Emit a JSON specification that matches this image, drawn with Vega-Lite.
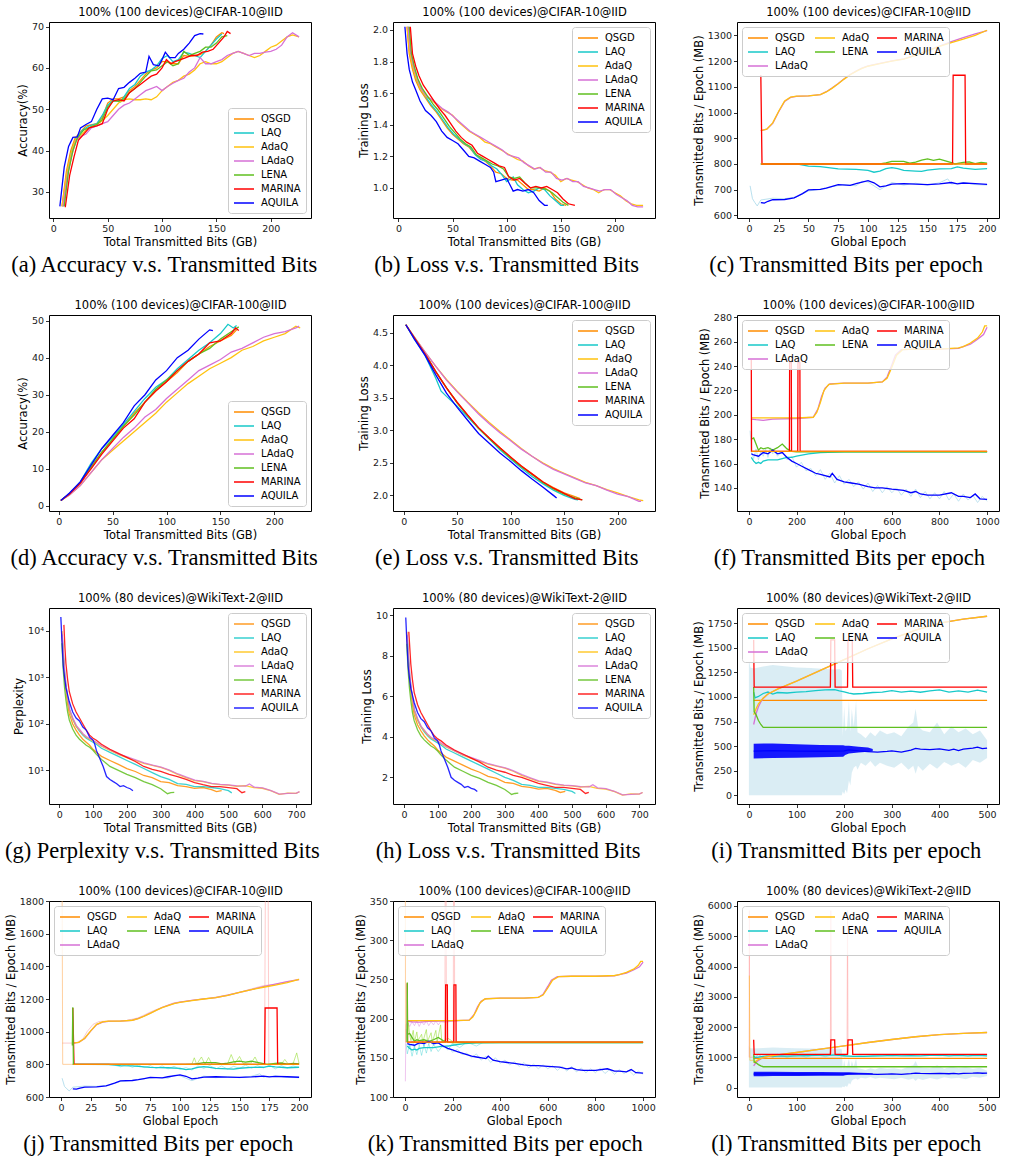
{
"$schema":"https://vega.github.io/schema/vega-lite/v6.json",
"background":"white",
"padding":{"left":4,"top":5,"right":2,"bottom":2},
"columns":3,
"spacing":{"row":97,"column":82},
"bounds":"flush",
"resolve":{"scale":{"x":"independent","y":"independent","color":"independent"},"legend":{"color":"independent"},"axis":{"x":"independent","y":"independent"}},
"config":{
 "font":"DejaVu Sans",
 "view":{"stroke":"#000000","strokeWidth":1},
 "axis":{"domain":false,"grid":false,"tickColor":"#000000","tickSize":3.5,"tickWidth":0.8,"labelFont":"DejaVu Sans","labelFontSize":9.5,"labelColor":"#1a1a1a","labelPadding":2,"labelFlush":false,"labelOverlap":false,"titleFont":"DejaVu Sans","titleFontSize":11.5,"titleFontWeight":"normal","titleColor":"#000000","titlePadding":3},
 "legend":{"symbolType":"M-1,0H3","symbolSize":100,"symbolStrokeWidth":1.5,"labelFont":"DejaVu Sans","labelFontSize":10,"labelColor":"#000000","padding":5,"strokeColor":"#cccccc","fillColor":"rgba(255,255,255,0.8)","cornerRadius":3,"offset":5,"rowPadding":3,"columnPadding":4,"labelOffset":16},
 "title":{"orient":"bottom","font":"Liberation Serif","fontSize":22.5,"fontWeight":"normal","color":"#000000","offset":6,"anchor":"middle","frame":"bounds"}
},
"datasets":{
"a":[
{"s":"QSGD","x":8,"y":26.5},{"s":"QSGD","x":12,"y":35},{"s":"QSGD","x":16,"y":40},{"s":"QSGD","x":20,"y":43},{"s":"QSGD","x":25,"y":44.5},{"s":"QSGD","x":30,"y":46},{"s":"QSGD","x":40,"y":46.5},{"s":"QSGD","x":45,"y":48},{"s":"QSGD","x":50,"y":51.5},{"s":"QSGD","x":55,"y":52.5},{"s":"QSGD","x":60,"y":52.5},{"s":"QSGD","x":65,"y":53},{"s":"QSGD","x":70,"y":54.5},{"s":"QSGD","x":75,"y":55.5},{"s":"QSGD","x":80,"y":57},{"s":"QSGD","x":85,"y":58.5},{"s":"QSGD","x":90,"y":59.5},{"s":"QSGD","x":95,"y":60},{"s":"QSGD","x":100,"y":61.5},{"s":"QSGD","x":105,"y":61.5},{"s":"QSGD","x":110,"y":61},{"s":"QSGD","x":115,"y":61},{"s":"QSGD","x":120,"y":63},{"s":"QSGD","x":125,"y":62.8},{"s":"QSGD","x":130,"y":63},{"s":"QSGD","x":135,"y":63.2},{"s":"QSGD","x":140,"y":64},{"s":"QSGD","x":145,"y":65.5},{"s":"QSGD","x":150,"y":67.5},{"s":"QSGD","x":155,"y":68.5},{"s":"QSGD","x":157,"y":68.3},
{"s":"LAQ","x":9,"y":26.5},{"s":"LAQ","x":13,"y":35},{"s":"LAQ","x":17,"y":40},{"s":"LAQ","x":21,"y":43},{"s":"LAQ","x":27,"y":45},{"s":"LAQ","x":33,"y":46},{"s":"LAQ","x":40,"y":46.5},{"s":"LAQ","x":45,"y":48.5},{"s":"LAQ","x":50,"y":51},{"s":"LAQ","x":55,"y":52.2},{"s":"LAQ","x":62,"y":51.8},{"s":"LAQ","x":65,"y":53},{"s":"LAQ","x":70,"y":55},{"s":"LAQ","x":75,"y":56},{"s":"LAQ","x":80,"y":58},{"s":"LAQ","x":85,"y":59},{"s":"LAQ","x":90,"y":59.5},{"s":"LAQ","x":95,"y":60.5},{"s":"LAQ","x":100,"y":62.3},{"s":"LAQ","x":105,"y":63},{"s":"LAQ","x":110,"y":61.5},{"s":"LAQ","x":115,"y":62},{"s":"LAQ","x":120,"y":63.8},{"s":"LAQ","x":125,"y":63.5},{"s":"LAQ","x":130,"y":63},{"s":"LAQ","x":135,"y":62.5},{"s":"LAQ","x":140,"y":64},{"s":"LAQ","x":145,"y":65.5},{"s":"LAQ","x":150,"y":67},{"s":"LAQ","x":155,"y":68.2},
{"s":"AdaQ","x":8,"y":26.5},{"s":"AdaQ","x":12,"y":34},{"s":"AdaQ","x":16,"y":39},{"s":"AdaQ","x":20,"y":42.5},{"s":"AdaQ","x":25,"y":43.5},{"s":"AdaQ","x":30,"y":45},{"s":"AdaQ","x":35,"y":45.8},{"s":"AdaQ","x":40,"y":46.3},{"s":"AdaQ","x":45,"y":47.2},{"s":"AdaQ","x":50,"y":48.5},{"s":"AdaQ","x":55,"y":50},{"s":"AdaQ","x":60,"y":51.5},{"s":"AdaQ","x":65,"y":52.3},{"s":"AdaQ","x":70,"y":52.5},{"s":"AdaQ","x":75,"y":52.3},{"s":"AdaQ","x":80,"y":52.3},{"s":"AdaQ","x":85,"y":52.5},{"s":"AdaQ","x":90,"y":52.3},{"s":"AdaQ","x":95,"y":53},{"s":"AdaQ","x":100,"y":54.5},{"s":"AdaQ","x":105,"y":55.5},{"s":"AdaQ","x":110,"y":56.5},{"s":"AdaQ","x":115,"y":57},{"s":"AdaQ","x":120,"y":58},{"s":"AdaQ","x":125,"y":58.5},{"s":"AdaQ","x":130,"y":59.5},{"s":"AdaQ","x":135,"y":61},{"s":"AdaQ","x":140,"y":61.5},{"s":"AdaQ","x":145,"y":61},{"s":"AdaQ","x":150,"y":61},{"s":"AdaQ","x":155,"y":61.5},{"s":"AdaQ","x":160,"y":62.5},{"s":"AdaQ","x":165,"y":63.5},{"s":"AdaQ","x":170,"y":64},{"s":"AdaQ","x":175,"y":63.5},{"s":"AdaQ","x":180,"y":63},{"s":"AdaQ","x":185,"y":62.5},{"s":"AdaQ","x":190,"y":63},{"s":"AdaQ","x":195,"y":64},{"s":"AdaQ","x":200,"y":65},{"s":"AdaQ","x":205,"y":65.5},{"s":"AdaQ","x":210,"y":66.5},{"s":"AdaQ","x":215,"y":67.5},{"s":"AdaQ","x":220,"y":68},{"s":"AdaQ","x":226,"y":67.5},
{"s":"LAdaQ","x":9,"y":26.5},{"s":"LAdaQ","x":13,"y":34},{"s":"LAdaQ","x":17,"y":39},{"s":"LAdaQ","x":21,"y":42.5},{"s":"LAdaQ","x":26,"y":43.5},{"s":"LAdaQ","x":30,"y":44},{"s":"LAdaQ","x":35,"y":45.5},{"s":"LAdaQ","x":40,"y":46},{"s":"LAdaQ","x":45,"y":46.5},{"s":"LAdaQ","x":50,"y":47},{"s":"LAdaQ","x":55,"y":48.5},{"s":"LAdaQ","x":60,"y":50},{"s":"LAdaQ","x":65,"y":51},{"s":"LAdaQ","x":70,"y":51.5},{"s":"LAdaQ","x":75,"y":52.5},{"s":"LAdaQ","x":80,"y":53.5},{"s":"LAdaQ","x":85,"y":54.5},{"s":"LAdaQ","x":90,"y":55},{"s":"LAdaQ","x":95,"y":55.5},{"s":"LAdaQ","x":100,"y":54.5},{"s":"LAdaQ","x":105,"y":55.5},{"s":"LAdaQ","x":110,"y":56.3},{"s":"LAdaQ","x":115,"y":57},{"s":"LAdaQ","x":120,"y":57.5},{"s":"LAdaQ","x":125,"y":59},{"s":"LAdaQ","x":130,"y":60},{"s":"LAdaQ","x":135,"y":62.5},{"s":"LAdaQ","x":140,"y":61},{"s":"LAdaQ","x":145,"y":61},{"s":"LAdaQ","x":150,"y":61.5},{"s":"LAdaQ","x":155,"y":62},{"s":"LAdaQ","x":160,"y":63},{"s":"LAdaQ","x":165,"y":63.5},{"s":"LAdaQ","x":170,"y":64},{"s":"LAdaQ","x":175,"y":63.5},{"s":"LAdaQ","x":180,"y":63},{"s":"LAdaQ","x":185,"y":63.5},{"s":"LAdaQ","x":190,"y":63.5},{"s":"LAdaQ","x":195,"y":63.8},{"s":"LAdaQ","x":200,"y":64},{"s":"LAdaQ","x":205,"y":64.5},{"s":"LAdaQ","x":210,"y":65.5},{"s":"LAdaQ","x":215,"y":67.5},{"s":"LAdaQ","x":220,"y":68.5},{"s":"LAdaQ","x":226,"y":67.5},
{"s":"LENA","x":10,"y":26.5},{"s":"LENA","x":14,"y":35},{"s":"LENA","x":18,"y":40},{"s":"LENA","x":22,"y":43},{"s":"LENA","x":28,"y":45},{"s":"LENA","x":35,"y":45.8},{"s":"LENA","x":40,"y":46.3},{"s":"LENA","x":45,"y":47.5},{"s":"LENA","x":50,"y":50.5},{"s":"LENA","x":55,"y":52},{"s":"LENA","x":60,"y":52},{"s":"LENA","x":65,"y":52.5},{"s":"LENA","x":70,"y":54},{"s":"LENA","x":75,"y":55},{"s":"LENA","x":80,"y":56.5},{"s":"LENA","x":85,"y":58},{"s":"LENA","x":90,"y":59.3},{"s":"LENA","x":95,"y":59.5},{"s":"LENA","x":100,"y":60.5},{"s":"LENA","x":105,"y":61.5},{"s":"LENA","x":110,"y":60.5},{"s":"LENA","x":115,"y":61},{"s":"LENA","x":120,"y":64},{"s":"LENA","x":125,"y":63},{"s":"LENA","x":130,"y":63.5},{"s":"LENA","x":135,"y":64},{"s":"LENA","x":140,"y":65},{"s":"LENA","x":145,"y":65},{"s":"LENA","x":150,"y":66},{"s":"LENA","x":155,"y":67.5},{"s":"LENA","x":160,"y":67.8},
{"s":"MARINA","x":11,"y":26.3},{"s":"MARINA","x":15,"y":34},{"s":"MARINA","x":19,"y":38.5},{"s":"MARINA","x":23,"y":42.5},{"s":"MARINA","x":28,"y":44},{"s":"MARINA","x":33,"y":45.5},{"s":"MARINA","x":40,"y":46},{"s":"MARINA","x":45,"y":46.5},{"s":"MARINA","x":50,"y":50},{"s":"MARINA","x":55,"y":52},{"s":"MARINA","x":60,"y":52.3},{"s":"MARINA","x":65,"y":52},{"s":"MARINA","x":70,"y":54},{"s":"MARINA","x":75,"y":55},{"s":"MARINA","x":80,"y":56},{"s":"MARINA","x":85,"y":57},{"s":"MARINA","x":90,"y":58},{"s":"MARINA","x":95,"y":58.5},{"s":"MARINA","x":100,"y":60},{"s":"MARINA","x":104,"y":62},{"s":"MARINA","x":108,"y":61},{"s":"MARINA","x":112,"y":61.5},{"s":"MARINA","x":117,"y":62},{"s":"MARINA","x":122,"y":62.5},{"s":"MARINA","x":127,"y":63},{"s":"MARINA","x":132,"y":63},{"s":"MARINA","x":137,"y":63.8},{"s":"MARINA","x":142,"y":64},{"s":"MARINA","x":147,"y":64.5},{"s":"MARINA","x":152,"y":66},{"s":"MARINA","x":157,"y":67.5},{"s":"MARINA","x":160,"y":68.8},{"s":"MARINA","x":163,"y":68.3},
{"s":"AQUILA","x":6,"y":26.5},{"s":"AQUILA","x":10,"y":36},{"s":"AQUILA","x":14,"y":41},{"s":"AQUILA","x":18,"y":43.2},{"s":"AQUILA","x":22,"y":43.3},{"s":"AQUILA","x":25,"y":45.5},{"s":"AQUILA","x":30,"y":46.3},{"s":"AQUILA","x":35,"y":47},{"s":"AQUILA","x":40,"y":50},{"s":"AQUILA","x":45,"y":52.5},{"s":"AQUILA","x":50,"y":52.7},{"s":"AQUILA","x":55,"y":52.3},{"s":"AQUILA","x":60,"y":55},{"s":"AQUILA","x":65,"y":55.3},{"s":"AQUILA","x":70,"y":56.5},{"s":"AQUILA","x":75,"y":57.5},{"s":"AQUILA","x":80,"y":58.7},{"s":"AQUILA","x":85,"y":59},{"s":"AQUILA","x":88,"y":62.8},{"s":"AQUILA","x":92,"y":60.8},{"s":"AQUILA","x":97,"y":60.5},{"s":"AQUILA","x":100,"y":62},{"s":"AQUILA","x":103,"y":63.8},{"s":"AQUILA","x":107,"y":62.5},{"s":"AQUILA","x":112,"y":62.5},{"s":"AQUILA","x":115,"y":63.5},{"s":"AQUILA","x":120,"y":64.5},{"s":"AQUILA","x":125,"y":66},{"s":"AQUILA","x":130,"y":67.8},{"s":"AQUILA","x":135,"y":68.3},{"s":"AQUILA","x":138,"y":68.2}
],
"b":[
{"s":"QSGD","x":8,"y":2.02},{"s":"QSGD","x":10,"y":1.85},{"s":"QSGD","x":13,"y":1.75},{"s":"QSGD","x":16,"y":1.68},{"s":"QSGD","x":20,"y":1.62},{"s":"QSGD","x":25,"y":1.57},{"s":"QSGD","x":30,"y":1.52},{"s":"QSGD","x":35,"y":1.48},{"s":"QSGD","x":40,"y":1.43},{"s":"QSGD","x":45,"y":1.38},{"s":"QSGD","x":50,"y":1.34},{"s":"QSGD","x":55,"y":1.31},{"s":"QSGD","x":60,"y":1.28},{"s":"QSGD","x":65,"y":1.26},{"s":"QSGD","x":70,"y":1.22},{"s":"QSGD","x":75,"y":1.19},{"s":"QSGD","x":80,"y":1.17},{"s":"QSGD","x":85,"y":1.14},{"s":"QSGD","x":90,"y":1.1},{"s":"QSGD","x":95,"y":1.09},{"s":"QSGD","x":100,"y":1.06},{"s":"QSGD","x":105,"y":1.05},{"s":"QSGD","x":110,"y":1.05},{"s":"QSGD","x":115,"y":1.02},{"s":"QSGD","x":120,"y":0.99},{"s":"QSGD","x":125,"y":0.99},{"s":"QSGD","x":130,"y":0.98},{"s":"QSGD","x":135,"y":1.0},{"s":"QSGD","x":140,"y":0.98},{"s":"QSGD","x":145,"y":0.93},{"s":"QSGD","x":150,"y":0.9},{"s":"QSGD","x":155,"y":0.89},
{"s":"LAQ","x":9,"y":2.02},{"s":"LAQ","x":11,"y":1.85},{"s":"LAQ","x":14,"y":1.75},{"s":"LAQ","x":17,"y":1.68},{"s":"LAQ","x":21,"y":1.62},{"s":"LAQ","x":26,"y":1.57},{"s":"LAQ","x":31,"y":1.52},{"s":"LAQ","x":36,"y":1.48},{"s":"LAQ","x":41,"y":1.43},{"s":"LAQ","x":46,"y":1.38},{"s":"LAQ","x":51,"y":1.34},{"s":"LAQ","x":56,"y":1.31},{"s":"LAQ","x":61,"y":1.28},{"s":"LAQ","x":66,"y":1.26},{"s":"LAQ","x":71,"y":1.21},{"s":"LAQ","x":76,"y":1.18},{"s":"LAQ","x":81,"y":1.17},{"s":"LAQ","x":86,"y":1.14},{"s":"LAQ","x":91,"y":1.12},{"s":"LAQ","x":96,"y":1.08},{"s":"LAQ","x":100,"y":1.04},{"s":"LAQ","x":106,"y":1.07},{"s":"LAQ","x":110,"y":1.02},{"s":"LAQ","x":115,"y":0.99},{"s":"LAQ","x":120,"y":0.97},{"s":"LAQ","x":125,"y":0.98},{"s":"LAQ","x":130,"y":1.0},{"s":"LAQ","x":135,"y":0.99},{"s":"LAQ","x":140,"y":0.95},{"s":"LAQ","x":145,"y":0.92},{"s":"LAQ","x":150,"y":0.89},{"s":"LAQ","x":153,"y":0.89},
{"s":"AdaQ","x":8,"y":2.02},{"s":"AdaQ","x":10,"y":1.87},{"s":"AdaQ","x":13,"y":1.77},{"s":"AdaQ","x":16,"y":1.7},{"s":"AdaQ","x":20,"y":1.63},{"s":"AdaQ","x":25,"y":1.58},{"s":"AdaQ","x":30,"y":1.56},{"s":"AdaQ","x":35,"y":1.53},{"s":"AdaQ","x":40,"y":1.5},{"s":"AdaQ","x":45,"y":1.48},{"s":"AdaQ","x":50,"y":1.46},{"s":"AdaQ","x":55,"y":1.42},{"s":"AdaQ","x":60,"y":1.39},{"s":"AdaQ","x":65,"y":1.36},{"s":"AdaQ","x":70,"y":1.34},{"s":"AdaQ","x":75,"y":1.32},{"s":"AdaQ","x":80,"y":1.29},{"s":"AdaQ","x":85,"y":1.28},{"s":"AdaQ","x":90,"y":1.26},{"s":"AdaQ","x":95,"y":1.24},{"s":"AdaQ","x":100,"y":1.22},{"s":"AdaQ","x":105,"y":1.2},{"s":"AdaQ","x":110,"y":1.18},{"s":"AdaQ","x":115,"y":1.17},{"s":"AdaQ","x":120,"y":1.14},{"s":"AdaQ","x":125,"y":1.12},{"s":"AdaQ","x":130,"y":1.13},{"s":"AdaQ","x":135,"y":1.11},{"s":"AdaQ","x":140,"y":1.1},{"s":"AdaQ","x":145,"y":1.08},{"s":"AdaQ","x":150,"y":1.04},{"s":"AdaQ","x":155,"y":1.06},{"s":"AdaQ","x":160,"y":1.05},{"s":"AdaQ","x":165,"y":1.04},{"s":"AdaQ","x":170,"y":1.02},{"s":"AdaQ","x":175,"y":1.0},{"s":"AdaQ","x":180,"y":0.99},{"s":"AdaQ","x":185,"y":0.97},{"s":"AdaQ","x":190,"y":0.99},{"s":"AdaQ","x":195,"y":0.99},{"s":"AdaQ","x":200,"y":0.97},{"s":"AdaQ","x":205,"y":0.95},{"s":"AdaQ","x":210,"y":0.92},{"s":"AdaQ","x":215,"y":0.9},{"s":"AdaQ","x":220,"y":0.89},{"s":"AdaQ","x":226,"y":0.89},
{"s":"LAdaQ","x":9,"y":2.02},{"s":"LAdaQ","x":11,"y":1.87},{"s":"LAdaQ","x":14,"y":1.77},{"s":"LAdaQ","x":17,"y":1.7},{"s":"LAdaQ","x":21,"y":1.63},{"s":"LAdaQ","x":26,"y":1.58},{"s":"LAdaQ","x":31,"y":1.56},{"s":"LAdaQ","x":36,"y":1.53},{"s":"LAdaQ","x":41,"y":1.5},{"s":"LAdaQ","x":46,"y":1.48},{"s":"LAdaQ","x":51,"y":1.45},{"s":"LAdaQ","x":56,"y":1.42},{"s":"LAdaQ","x":61,"y":1.39},{"s":"LAdaQ","x":66,"y":1.36},{"s":"LAdaQ","x":71,"y":1.34},{"s":"LAdaQ","x":76,"y":1.32},{"s":"LAdaQ","x":81,"y":1.3},{"s":"LAdaQ","x":86,"y":1.28},{"s":"LAdaQ","x":91,"y":1.26},{"s":"LAdaQ","x":96,"y":1.24},{"s":"LAdaQ","x":101,"y":1.21},{"s":"LAdaQ","x":106,"y":1.2},{"s":"LAdaQ","x":111,"y":1.19},{"s":"LAdaQ","x":116,"y":1.16},{"s":"LAdaQ","x":121,"y":1.14},{"s":"LAdaQ","x":126,"y":1.12},{"s":"LAdaQ","x":131,"y":1.13},{"s":"LAdaQ","x":136,"y":1.1},{"s":"LAdaQ","x":141,"y":1.1},{"s":"LAdaQ","x":146,"y":1.06},{"s":"LAdaQ","x":151,"y":1.05},{"s":"LAdaQ","x":156,"y":1.06},{"s":"LAdaQ","x":161,"y":1.04},{"s":"LAdaQ","x":166,"y":1.04},{"s":"LAdaQ","x":171,"y":1.01},{"s":"LAdaQ","x":176,"y":1.0},{"s":"LAdaQ","x":181,"y":0.99},{"s":"LAdaQ","x":186,"y":0.98},{"s":"LAdaQ","x":191,"y":0.99},{"s":"LAdaQ","x":196,"y":0.99},{"s":"LAdaQ","x":201,"y":0.96},{"s":"LAdaQ","x":206,"y":0.94},{"s":"LAdaQ","x":211,"y":0.92},{"s":"LAdaQ","x":216,"y":0.89},{"s":"LAdaQ","x":221,"y":0.88},{"s":"LAdaQ","x":226,"y":0.88},
{"s":"LENA","x":10,"y":2.02},{"s":"LENA","x":12,"y":1.85},{"s":"LENA","x":15,"y":1.76},{"s":"LENA","x":18,"y":1.69},{"s":"LENA","x":22,"y":1.63},{"s":"LENA","x":27,"y":1.58},{"s":"LENA","x":32,"y":1.53},{"s":"LENA","x":37,"y":1.49},{"s":"LENA","x":42,"y":1.44},{"s":"LENA","x":47,"y":1.39},{"s":"LENA","x":52,"y":1.35},{"s":"LENA","x":57,"y":1.31},{"s":"LENA","x":62,"y":1.28},{"s":"LENA","x":67,"y":1.26},{"s":"LENA","x":72,"y":1.21},{"s":"LENA","x":77,"y":1.19},{"s":"LENA","x":82,"y":1.17},{"s":"LENA","x":87,"y":1.15},{"s":"LENA","x":92,"y":1.14},{"s":"LENA","x":97,"y":1.12},{"s":"LENA","x":102,"y":1.07},{"s":"LENA","x":107,"y":1.06},{"s":"LENA","x":112,"y":1.07},{"s":"LENA","x":117,"y":1.03},{"s":"LENA","x":122,"y":1.0},{"s":"LENA","x":127,"y":1.0},{"s":"LENA","x":132,"y":1.0},{"s":"LENA","x":137,"y":0.99},{"s":"LENA","x":142,"y":0.97},{"s":"LENA","x":147,"y":0.94},{"s":"LENA","x":152,"y":0.91},{"s":"LENA","x":157,"y":0.89},
{"s":"MARINA","x":11,"y":2.02},{"s":"MARINA","x":13,"y":1.85},{"s":"MARINA","x":16,"y":1.77},{"s":"MARINA","x":19,"y":1.71},{"s":"MARINA","x":23,"y":1.65},{"s":"MARINA","x":28,"y":1.6},{"s":"MARINA","x":33,"y":1.55},{"s":"MARINA","x":38,"y":1.5},{"s":"MARINA","x":43,"y":1.46},{"s":"MARINA","x":48,"y":1.41},{"s":"MARINA","x":53,"y":1.36},{"s":"MARINA","x":58,"y":1.32},{"s":"MARINA","x":63,"y":1.29},{"s":"MARINA","x":68,"y":1.27},{"s":"MARINA","x":73,"y":1.22},{"s":"MARINA","x":78,"y":1.2},{"s":"MARINA","x":83,"y":1.18},{"s":"MARINA","x":88,"y":1.16},{"s":"MARINA","x":93,"y":1.14},{"s":"MARINA","x":98,"y":1.13},{"s":"MARINA","x":102,"y":1.07},{"s":"MARINA","x":107,"y":1.05},{"s":"MARINA","x":112,"y":1.06},{"s":"MARINA","x":117,"y":1.03},{"s":"MARINA","x":122,"y":1.0},{"s":"MARINA","x":127,"y":1.01},{"s":"MARINA","x":132,"y":1.0},{"s":"MARINA","x":137,"y":1.01},{"s":"MARINA","x":142,"y":0.99},{"s":"MARINA","x":147,"y":0.97},{"s":"MARINA","x":152,"y":0.93},{"s":"MARINA","x":157,"y":0.9},{"s":"MARINA","x":163,"y":0.89},
{"s":"AQUILA","x":6,"y":2.02},{"s":"AQUILA","x":8,"y":1.85},{"s":"AQUILA","x":10,"y":1.75},{"s":"AQUILA","x":13,"y":1.67},{"s":"AQUILA","x":16,"y":1.62},{"s":"AQUILA","x":20,"y":1.55},{"s":"AQUILA","x":25,"y":1.49},{"s":"AQUILA","x":30,"y":1.46},{"s":"AQUILA","x":35,"y":1.42},{"s":"AQUILA","x":40,"y":1.36},{"s":"AQUILA","x":45,"y":1.32},{"s":"AQUILA","x":50,"y":1.3},{"s":"AQUILA","x":55,"y":1.28},{"s":"AQUILA","x":60,"y":1.24},{"s":"AQUILA","x":65,"y":1.2},{"s":"AQUILA","x":70,"y":1.19},{"s":"AQUILA","x":75,"y":1.17},{"s":"AQUILA","x":80,"y":1.15},{"s":"AQUILA","x":85,"y":1.13},{"s":"AQUILA","x":88,"y":1.1},{"s":"AQUILA","x":90,"y":1.04},{"s":"AQUILA","x":95,"y":1.05},{"s":"AQUILA","x":100,"y":1.06},{"s":"AQUILA","x":103,"y":1.02},{"s":"AQUILA","x":106,"y":0.98},{"s":"AQUILA","x":110,"y":0.99},{"s":"AQUILA","x":115,"y":0.98},{"s":"AQUILA","x":120,"y":0.99},{"s":"AQUILA","x":125,"y":0.97},{"s":"AQUILA","x":130,"y":0.92},{"s":"AQUILA","x":135,"y":0.89},{"s":"AQUILA","x":138,"y":0.89}
],
"c":[
{"s":"LAQ","x":10,"y":800},{"s":"LAQ","x":40,"y":800},{"s":"LAQ","x":50,"y":792},{"s":"LAQ","x":60,"y":790},{"s":"LAQ","x":75,"y":781},{"s":"LAQ","x":90,"y":779},{"s":"LAQ","x":100,"y":775},{"s":"LAQ","x":105,"y":768},{"s":"LAQ","x":110,"y":772},{"s":"LAQ","x":115,"y":782},{"s":"LAQ","x":120,"y":786},{"s":"LAQ","x":125,"y":782},{"s":"LAQ","x":130,"y":775},{"s":"LAQ","x":140,"y":772},{"s":"LAQ","x":145,"y":771},{"s":"LAQ","x":150,"y":776},{"s":"LAQ","x":160,"y":781},{"s":"LAQ","x":170,"y":782},{"s":"LAQ","x":175,"y":789},{"s":"LAQ","x":180,"y":784},{"s":"LAQ","x":190,"y":779},{"s":"LAQ","x":200,"y":782},
{"s":"LAdaQ","x":10,"y":930},{"s":"LAdaQ","x":15,"y":935},{"s":"LAdaQ","x":20,"y":958},{"s":"LAdaQ","x":25,"y":1003},{"s":"LAdaQ","x":30,"y":1043},{"s":"LAdaQ","x":35,"y":1059},{"s":"LAdaQ","x":40,"y":1063},{"s":"LAdaQ","x":50,"y":1065},{"s":"LAdaQ","x":60,"y":1070},{"s":"LAdaQ","x":65,"y":1081},{"s":"LAdaQ","x":70,"y":1096},{"s":"LAdaQ","x":75,"y":1113},{"s":"LAdaQ","x":80,"y":1131},{"s":"LAdaQ","x":85,"y":1148},{"s":"LAdaQ","x":90,"y":1161},{"s":"LAdaQ","x":95,"y":1173},{"s":"LAdaQ","x":100,"y":1181},{"s":"LAdaQ","x":110,"y":1191},{"s":"LAdaQ","x":120,"y":1201},{"s":"LAdaQ","x":130,"y":1209},{"s":"LAdaQ","x":140,"y":1223},{"s":"LAdaQ","x":150,"y":1241},{"s":"LAdaQ","x":160,"y":1258},{"s":"LAdaQ","x":170,"y":1276},{"s":"LAdaQ","x":180,"y":1291},{"s":"LAdaQ","x":190,"y":1306},{"s":"LAdaQ","x":200,"y":1318},
{"s":"AdaQ","x":10,"y":930},{"s":"AdaQ","x":15,"y":935},{"s":"AdaQ","x":20,"y":960},{"s":"AdaQ","x":25,"y":1005},{"s":"AdaQ","x":30,"y":1045},{"s":"AdaQ","x":35,"y":1060},{"s":"AdaQ","x":40,"y":1064},{"s":"AdaQ","x":50,"y":1065},{"s":"AdaQ","x":60,"y":1070},{"s":"AdaQ","x":65,"y":1080},{"s":"AdaQ","x":70,"y":1095},{"s":"AdaQ","x":75,"y":1112},{"s":"AdaQ","x":80,"y":1130},{"s":"AdaQ","x":85,"y":1147},{"s":"AdaQ","x":90,"y":1160},{"s":"AdaQ","x":95,"y":1172},{"s":"AdaQ","x":100,"y":1180},{"s":"AdaQ","x":110,"y":1190},{"s":"AdaQ","x":120,"y":1200},{"s":"AdaQ","x":130,"y":1208},{"s":"AdaQ","x":140,"y":1222},{"s":"AdaQ","x":150,"y":1240},{"s":"AdaQ","x":160,"y":1257},{"s":"AdaQ","x":170,"y":1272},{"s":"AdaQ","x":180,"y":1285},{"s":"AdaQ","x":190,"y":1300},{"s":"AdaQ","x":200,"y":1320},
{"s":"LENA","x":10,"y":800},{"s":"LENA","x":110,"y":800},{"s":"LENA","x":115,"y":804},{"s":"LENA","x":120,"y":810},{"s":"LENA","x":130,"y":810},{"s":"LENA","x":135,"y":803},{"s":"LENA","x":140,"y":807},{"s":"LENA","x":145,"y":815},{"s":"LENA","x":150,"y":820},{"s":"LENA","x":155,"y":814},{"s":"LENA","x":160,"y":819},{"s":"LENA","x":165,"y":812},{"s":"LENA","x":170,"y":805},{"s":"LENA","x":173,"y":800},{"s":"LENA","x":180,"y":806},{"s":"LENA","x":185,"y":808},{"s":"LENA","x":190,"y":801},{"s":"LENA","x":195,"y":806},{"s":"LENA","x":200,"y":803},
{"s":"MARINA","x":10,"y":1145},{"s":"MARINA","x":11,"y":800},{"s":"MARINA","x":171,"y":800},{"s":"MARINA","x":171.5,"y":1145},{"s":"MARINA","x":181.5,"y":1145},{"s":"MARINA","x":182,"y":800},{"s":"MARINA","x":200,"y":800},
{"s":"AQUILA","x":10,"y":650},{"s":"AQUILA","x":13,"y":648},{"s":"AQUILA","x":16,"y":655},{"s":"AQUILA","x":20,"y":661},{"s":"AQUILA","x":30,"y":662},{"s":"AQUILA","x":38,"y":668},{"s":"AQUILA","x":45,"y":685},{"s":"AQUILA","x":50,"y":699},{"s":"AQUILA","x":60,"y":701},{"s":"AQUILA","x":65,"y":706},{"s":"AQUILA","x":70,"y":713},{"s":"AQUILA","x":75,"y":720},{"s":"AQUILA","x":85,"y":717},{"s":"AQUILA","x":90,"y":724},{"s":"AQUILA","x":100,"y":735},{"s":"AQUILA","x":105,"y":727},{"s":"AQUILA","x":110,"y":711},{"s":"AQUILA","x":115,"y":715},{"s":"AQUILA","x":120,"y":722},{"s":"AQUILA","x":130,"y":724},{"s":"AQUILA","x":140,"y":722},{"s":"AQUILA","x":150,"y":720},{"s":"AQUILA","x":160,"y":723},{"s":"AQUILA","x":170,"y":728},{"s":"AQUILA","x":175,"y":723},{"s":"AQUILA","x":180,"y":726},{"s":"AQUILA","x":190,"y":724},{"s":"AQUILA","x":200,"y":721},
{"s":"QSGD","x":10,"y":800},{"s":"QSGD","x":200,"y":800}
],
"c_raw":[{"x":1,"y":715},{"x":3,"y":665},{"x":5,"y":650},{"x":7,"y":637},{"x":10,"y":660},{"x":20,"y":667},{"x":30,"y":665},{"x":40,"y":672},{"x":50,"y":695},{"x":60,"y":702},{"x":70,"y":712},{"x":80,"y":720},{"x":90,"y":715},{"x":95,"y":733},{"x":100,"y":730},{"x":105,"y":715},{"x":110,"y":700},{"x":120,"y":728},{"x":130,"y":718},{"x":140,"y":725},{"x":150,"y":718},{"x":160,"y":727},{"x":167,"y":742},{"x":170,"y":722},{"x":180,"y":728},{"x":190,"y":720},{"x":200,"y":718}],
"d":[
{"s":"QSGD","x":2,"y":1.5},{"s":"QSGD","x":10,"y":3.3},{"s":"QSGD","x":20,"y":6},{"s":"QSGD","x":30,"y":10.5},{"s":"QSGD","x":40,"y":14.5},{"s":"QSGD","x":50,"y":18},{"s":"QSGD","x":60,"y":21.5},{"s":"QSGD","x":70,"y":25},{"s":"QSGD","x":80,"y":28},{"s":"QSGD","x":90,"y":31},{"s":"QSGD","x":100,"y":33.5},{"s":"QSGD","x":110,"y":36},{"s":"QSGD","x":120,"y":39},{"s":"QSGD","x":130,"y":41},{"s":"QSGD","x":140,"y":43},{"s":"QSGD","x":150,"y":44.5},{"s":"QSGD","x":160,"y":46},{"s":"QSGD","x":165,"y":47.5},
{"s":"LAQ","x":2,"y":1.5},{"s":"LAQ","x":10,"y":3.3},{"s":"LAQ","x":20,"y":6.5},{"s":"LAQ","x":30,"y":11.5},{"s":"LAQ","x":40,"y":15.5},{"s":"LAQ","x":50,"y":18.5},{"s":"LAQ","x":60,"y":22},{"s":"LAQ","x":70,"y":25.5},{"s":"LAQ","x":80,"y":29},{"s":"LAQ","x":90,"y":32},{"s":"LAQ","x":100,"y":34},{"s":"LAQ","x":110,"y":37},{"s":"LAQ","x":120,"y":39.5},{"s":"LAQ","x":130,"y":42},{"s":"LAQ","x":140,"y":44},{"s":"LAQ","x":150,"y":46.5},{"s":"LAQ","x":157,"y":49},{"s":"LAQ","x":162,"y":48},{"s":"LAQ","x":165,"y":48.7},
{"s":"AdaQ","x":2,"y":1.5},{"s":"AdaQ","x":10,"y":3},{"s":"AdaQ","x":20,"y":5.5},{"s":"AdaQ","x":30,"y":9},{"s":"AdaQ","x":40,"y":12.5},{"s":"AdaQ","x":50,"y":15},{"s":"AdaQ","x":60,"y":17.5},{"s":"AdaQ","x":70,"y":20},{"s":"AdaQ","x":80,"y":22.5},{"s":"AdaQ","x":90,"y":25},{"s":"AdaQ","x":100,"y":28},{"s":"AdaQ","x":110,"y":30.5},{"s":"AdaQ","x":120,"y":33},{"s":"AdaQ","x":130,"y":35},{"s":"AdaQ","x":140,"y":37},{"s":"AdaQ","x":150,"y":38.5},{"s":"AdaQ","x":160,"y":40},{"s":"AdaQ","x":170,"y":42},{"s":"AdaQ","x":180,"y":43},{"s":"AdaQ","x":190,"y":44.5},{"s":"AdaQ","x":200,"y":45.5},{"s":"AdaQ","x":210,"y":46.5},{"s":"AdaQ","x":220,"y":48.5},{"s":"AdaQ","x":224,"y":48},
{"s":"LAdaQ","x":2,"y":1.5},{"s":"LAdaQ","x":10,"y":3},{"s":"LAdaQ","x":20,"y":5.5},{"s":"LAdaQ","x":30,"y":9},{"s":"LAdaQ","x":40,"y":12.5},{"s":"LAdaQ","x":50,"y":15.5},{"s":"LAdaQ","x":60,"y":18.5},{"s":"LAdaQ","x":70,"y":21},{"s":"LAdaQ","x":80,"y":24},{"s":"LAdaQ","x":90,"y":26},{"s":"LAdaQ","x":100,"y":29},{"s":"LAdaQ","x":110,"y":31.5},{"s":"LAdaQ","x":120,"y":34},{"s":"LAdaQ","x":130,"y":36.5},{"s":"LAdaQ","x":140,"y":38},{"s":"LAdaQ","x":150,"y":39.5},{"s":"LAdaQ","x":160,"y":41.5},{"s":"LAdaQ","x":170,"y":42.5},{"s":"LAdaQ","x":180,"y":44},{"s":"LAdaQ","x":190,"y":45.5},{"s":"LAdaQ","x":200,"y":46.5},{"s":"LAdaQ","x":210,"y":47},{"s":"LAdaQ","x":220,"y":48},{"s":"LAdaQ","x":223,"y":48.5},
{"s":"LENA","x":2,"y":1.5},{"s":"LENA","x":10,"y":3.3},{"s":"LENA","x":20,"y":6.3},{"s":"LENA","x":30,"y":10.5},{"s":"LENA","x":40,"y":14.5},{"s":"LENA","x":50,"y":18},{"s":"LENA","x":60,"y":21.5},{"s":"LENA","x":70,"y":24.5},{"s":"LENA","x":80,"y":28},{"s":"LENA","x":90,"y":31.5},{"s":"LENA","x":100,"y":34},{"s":"LENA","x":110,"y":36.5},{"s":"LENA","x":120,"y":39},{"s":"LENA","x":130,"y":41},{"s":"LENA","x":140,"y":42.5},{"s":"LENA","x":150,"y":45},{"s":"LENA","x":160,"y":47},{"s":"LENA","x":167,"y":48.3},
{"s":"MARINA","x":2,"y":1.5},{"s":"MARINA","x":10,"y":3.2},{"s":"MARINA","x":20,"y":6.2},{"s":"MARINA","x":30,"y":10},{"s":"MARINA","x":40,"y":14},{"s":"MARINA","x":50,"y":17.5},{"s":"MARINA","x":60,"y":21},{"s":"MARINA","x":70,"y":23.5},{"s":"MARINA","x":80,"y":28},{"s":"MARINA","x":90,"y":31},{"s":"MARINA","x":100,"y":33.5},{"s":"MARINA","x":110,"y":36.5},{"s":"MARINA","x":120,"y":39},{"s":"MARINA","x":130,"y":41},{"s":"MARINA","x":140,"y":44},{"s":"MARINA","x":150,"y":44.5},{"s":"MARINA","x":160,"y":46.5},{"s":"MARINA","x":164,"y":48},{"s":"MARINA","x":167,"y":47.3},
{"s":"AQUILA","x":2,"y":1.5},{"s":"AQUILA","x":10,"y":3.5},{"s":"AQUILA","x":20,"y":6.5},{"s":"AQUILA","x":30,"y":11},{"s":"AQUILA","x":40,"y":15.5},{"s":"AQUILA","x":50,"y":19},{"s":"AQUILA","x":60,"y":22.5},{"s":"AQUILA","x":70,"y":27},{"s":"AQUILA","x":80,"y":30},{"s":"AQUILA","x":90,"y":34},{"s":"AQUILA","x":100,"y":36.5},{"s":"AQUILA","x":110,"y":40},{"s":"AQUILA","x":120,"y":42},{"s":"AQUILA","x":130,"y":45},{"s":"AQUILA","x":140,"y":47.5},{"s":"AQUILA","x":143,"y":47.3}
],
"e":[
{"s":"QSGD","x":2,"y":4.62},{"s":"QSGD","x":10,"y":4.42},{"s":"QSGD","x":20,"y":4.18},{"s":"QSGD","x":30,"y":3.9},{"s":"QSGD","x":40,"y":3.65},{"s":"QSGD","x":50,"y":3.42},{"s":"QSGD","x":60,"y":3.22},{"s":"QSGD","x":70,"y":3.03},{"s":"QSGD","x":80,"y":2.88},{"s":"QSGD","x":90,"y":2.73},{"s":"QSGD","x":100,"y":2.58},{"s":"QSGD","x":110,"y":2.45},{"s":"QSGD","x":120,"y":2.33},{"s":"QSGD","x":130,"y":2.21},{"s":"QSGD","x":140,"y":2.12},{"s":"QSGD","x":150,"y":2.04},{"s":"QSGD","x":160,"y":1.98},{"s":"QSGD","x":165,"y":1.95},
{"s":"LAQ","x":2,"y":4.62},{"s":"LAQ","x":10,"y":4.4},{"s":"LAQ","x":20,"y":4.15},{"s":"LAQ","x":30,"y":3.8},{"s":"LAQ","x":35,"y":3.6},{"s":"LAQ","x":40,"y":3.52},{"s":"LAQ","x":50,"y":3.37},{"s":"LAQ","x":60,"y":3.2},{"s":"LAQ","x":70,"y":3.03},{"s":"LAQ","x":80,"y":2.87},{"s":"LAQ","x":90,"y":2.7},{"s":"LAQ","x":100,"y":2.56},{"s":"LAQ","x":110,"y":2.42},{"s":"LAQ","x":120,"y":2.29},{"s":"LAQ","x":130,"y":2.18},{"s":"LAQ","x":140,"y":2.08},{"s":"LAQ","x":150,"y":2.0},{"s":"LAQ","x":160,"y":1.94},{"s":"LAQ","x":163,"y":1.93},
{"s":"AdaQ","x":2,"y":4.62},{"s":"AdaQ","x":10,"y":4.43},{"s":"AdaQ","x":20,"y":4.2},{"s":"AdaQ","x":30,"y":3.98},{"s":"AdaQ","x":40,"y":3.78},{"s":"AdaQ","x":50,"y":3.6},{"s":"AdaQ","x":60,"y":3.43},{"s":"AdaQ","x":70,"y":3.27},{"s":"AdaQ","x":80,"y":3.12},{"s":"AdaQ","x":90,"y":2.98},{"s":"AdaQ","x":100,"y":2.85},{"s":"AdaQ","x":110,"y":2.72},{"s":"AdaQ","x":120,"y":2.6},{"s":"AdaQ","x":130,"y":2.5},{"s":"AdaQ","x":140,"y":2.41},{"s":"AdaQ","x":150,"y":2.34},{"s":"AdaQ","x":160,"y":2.27},{"s":"AdaQ","x":170,"y":2.2},{"s":"AdaQ","x":180,"y":2.15},{"s":"AdaQ","x":190,"y":2.09},{"s":"AdaQ","x":200,"y":2.04},{"s":"AdaQ","x":210,"y":1.98},{"s":"AdaQ","x":220,"y":1.93},{"s":"AdaQ","x":224,"y":1.92},
{"s":"LAdaQ","x":2,"y":4.62},{"s":"LAdaQ","x":10,"y":4.43},{"s":"LAdaQ","x":20,"y":4.2},{"s":"LAdaQ","x":30,"y":3.98},{"s":"LAdaQ","x":40,"y":3.77},{"s":"LAdaQ","x":50,"y":3.59},{"s":"LAdaQ","x":60,"y":3.42},{"s":"LAdaQ","x":70,"y":3.25},{"s":"LAdaQ","x":80,"y":3.1},{"s":"LAdaQ","x":90,"y":2.96},{"s":"LAdaQ","x":100,"y":2.84},{"s":"LAdaQ","x":110,"y":2.71},{"s":"LAdaQ","x":120,"y":2.6},{"s":"LAdaQ","x":130,"y":2.49},{"s":"LAdaQ","x":140,"y":2.4},{"s":"LAdaQ","x":150,"y":2.33},{"s":"LAdaQ","x":160,"y":2.26},{"s":"LAdaQ","x":170,"y":2.19},{"s":"LAdaQ","x":180,"y":2.15},{"s":"LAdaQ","x":190,"y":2.08},{"s":"LAdaQ","x":200,"y":2.02},{"s":"LAdaQ","x":210,"y":1.98},{"s":"LAdaQ","x":220,"y":1.91},{"s":"LAdaQ","x":222,"y":1.91},
{"s":"LENA","x":2,"y":4.62},{"s":"LENA","x":10,"y":4.42},{"s":"LENA","x":20,"y":4.17},{"s":"LENA","x":30,"y":3.9},{"s":"LENA","x":40,"y":3.65},{"s":"LENA","x":50,"y":3.42},{"s":"LENA","x":60,"y":3.22},{"s":"LENA","x":70,"y":3.03},{"s":"LENA","x":80,"y":2.87},{"s":"LENA","x":90,"y":2.72},{"s":"LENA","x":100,"y":2.57},{"s":"LENA","x":110,"y":2.44},{"s":"LENA","x":120,"y":2.32},{"s":"LENA","x":130,"y":2.2},{"s":"LENA","x":140,"y":2.1},{"s":"LENA","x":150,"y":2.02},{"s":"LENA","x":160,"y":1.96},{"s":"LENA","x":167,"y":1.93},
{"s":"MARINA","x":2,"y":4.62},{"s":"MARINA","x":10,"y":4.42},{"s":"MARINA","x":20,"y":4.17},{"s":"MARINA","x":30,"y":3.9},{"s":"MARINA","x":40,"y":3.65},{"s":"MARINA","x":50,"y":3.43},{"s":"MARINA","x":60,"y":3.23},{"s":"MARINA","x":70,"y":3.04},{"s":"MARINA","x":80,"y":2.88},{"s":"MARINA","x":90,"y":2.73},{"s":"MARINA","x":100,"y":2.59},{"s":"MARINA","x":110,"y":2.45},{"s":"MARINA","x":120,"y":2.33},{"s":"MARINA","x":130,"y":2.21},{"s":"MARINA","x":140,"y":2.11},{"s":"MARINA","x":150,"y":2.03},{"s":"MARINA","x":160,"y":1.95},{"s":"MARINA","x":167,"y":1.93},
{"s":"AQUILA","x":2,"y":4.62},{"s":"AQUILA","x":10,"y":4.4},{"s":"AQUILA","x":20,"y":4.15},{"s":"AQUILA","x":30,"y":3.85},{"s":"AQUILA","x":40,"y":3.57},{"s":"AQUILA","x":50,"y":3.35},{"s":"AQUILA","x":60,"y":3.15},{"s":"AQUILA","x":70,"y":2.95},{"s":"AQUILA","x":80,"y":2.8},{"s":"AQUILA","x":90,"y":2.65},{"s":"AQUILA","x":100,"y":2.52},{"s":"AQUILA","x":110,"y":2.38},{"s":"AQUILA","x":120,"y":2.25},{"s":"AQUILA","x":130,"y":2.13},{"s":"AQUILA","x":140,"y":2.0},{"s":"AQUILA","x":143,"y":1.96}
],
"f":[
{"s":"LAQ","x":10,"y":165},{"s":"LAQ","x":20,"y":162},{"s":"LAQ","x":30,"y":160},{"s":"LAQ","x":40,"y":161},{"s":"LAQ","x":50,"y":160},{"s":"LAQ","x":60,"y":162},{"s":"LAQ","x":80,"y":163},{"s":"LAQ","x":100,"y":163},{"s":"LAQ","x":120,"y":163},{"s":"LAQ","x":140,"y":164},{"s":"LAQ","x":160,"y":165},{"s":"LAQ","x":180,"y":165},{"s":"LAQ","x":200,"y":166},{"s":"LAQ","x":250,"y":168},{"s":"LAQ","x":300,"y":169},{"s":"LAQ","x":400,"y":169.5},{"s":"LAQ","x":1000,"y":169.5},
{"s":"LAdaQ","x":10,"y":196.5},{"s":"LAdaQ","x":30,"y":196},{"s":"LAdaQ","x":60,"y":195.5},{"s":"LAdaQ","x":100,"y":196.5},{"s":"LAdaQ","x":200,"y":197},{"s":"LAdaQ","x":270,"y":198},{"s":"LAdaQ","x":290,"y":205},{"s":"LAdaQ","x":305,"y":215},{"s":"LAdaQ","x":320,"y":222},{"s":"LAdaQ","x":340,"y":225.5},{"s":"LAdaQ","x":400,"y":226},{"s":"LAdaQ","x":500,"y":226},{"s":"LAdaQ","x":560,"y":227},{"s":"LAdaQ","x":580,"y":231},{"s":"LAdaQ","x":600,"y":241},{"s":"LAdaQ","x":615,"y":249},{"s":"LAdaQ","x":640,"y":253.5},{"s":"LAdaQ","x":700,"y":254},{"s":"LAdaQ","x":800,"y":254},{"s":"LAdaQ","x":880,"y":254.5},{"s":"LAdaQ","x":900,"y":256},{"s":"LAdaQ","x":930,"y":258},{"s":"LAdaQ","x":960,"y":262},{"s":"LAdaQ","x":985,"y":266},{"s":"LAdaQ","x":1000,"y":272},
{"s":"AdaQ","x":10,"y":197.5},{"s":"AdaQ","x":100,"y":197.5},{"s":"AdaQ","x":200,"y":197.5},{"s":"AdaQ","x":270,"y":198},{"s":"AdaQ","x":285,"y":202},{"s":"AdaQ","x":300,"y":210},{"s":"AdaQ","x":315,"y":220},{"s":"AdaQ","x":335,"y":225},{"s":"AdaQ","x":400,"y":226},{"s":"AdaQ","x":500,"y":226},{"s":"AdaQ","x":560,"y":227},{"s":"AdaQ","x":580,"y":230},{"s":"AdaQ","x":600,"y":239},{"s":"AdaQ","x":620,"y":249},{"s":"AdaQ","x":645,"y":253.5},{"s":"AdaQ","x":700,"y":254},{"s":"AdaQ","x":800,"y":254},{"s":"AdaQ","x":880,"y":255},{"s":"AdaQ","x":900,"y":256},{"s":"AdaQ","x":930,"y":259},{"s":"AdaQ","x":960,"y":263},{"s":"AdaQ","x":980,"y":268},{"s":"AdaQ","x":990,"y":273},{"s":"AdaQ","x":1000,"y":273},
{"s":"LENA","x":10,"y":180},{"s":"LENA","x":20,"y":181},{"s":"LENA","x":30,"y":176},{"s":"LENA","x":40,"y":171},{"s":"LENA","x":50,"y":173},{"s":"LENA","x":60,"y":172},{"s":"LENA","x":80,"y":173},{"s":"LENA","x":100,"y":171},{"s":"LENA","x":120,"y":173},{"s":"LENA","x":140,"y":176},{"s":"LENA","x":150,"y":174},{"s":"LENA","x":160,"y":172},{"s":"LENA","x":180,"y":170},{"s":"LENA","x":200,"y":169.5},{"s":"LENA","x":1000,"y":169.5},
{"s":"MARINA","x":10,"y":245},{"s":"MARINA","x":11,"y":170},{"s":"MARINA","x":170,"y":170},{"s":"MARINA","x":171,"y":243},{"s":"MARINA","x":178,"y":243},{"s":"MARINA","x":179,"y":170},{"s":"MARINA","x":205,"y":170},{"s":"MARINA","x":206,"y":243},{"s":"MARINA","x":214,"y":243},{"s":"MARINA","x":215,"y":170},{"s":"MARINA","x":1000,"y":170},
{"s":"AQUILA","x":10,"y":168},{"s":"AQUILA","x":20,"y":167},{"s":"AQUILA","x":40,"y":166},{"s":"AQUILA","x":60,"y":169},{"s":"AQUILA","x":80,"y":168},{"s":"AQUILA","x":100,"y":171},{"s":"AQUILA","x":120,"y":168},{"s":"AQUILA","x":140,"y":169},{"s":"AQUILA","x":160,"y":165},{"s":"AQUILA","x":180,"y":162},{"s":"AQUILA","x":200,"y":160},{"s":"AQUILA","x":220,"y":158},{"s":"AQUILA","x":250,"y":155},{"s":"AQUILA","x":280,"y":152},{"s":"AQUILA","x":300,"y":151},{"s":"AQUILA","x":340,"y":149},{"s":"AQUILA","x":350,"y":152},{"s":"AQUILA","x":370,"y":147},{"s":"AQUILA","x":400,"y":145},{"s":"AQUILA","x":430,"y":144},{"s":"AQUILA","x":460,"y":143},{"s":"AQUILA","x":500,"y":141},{"s":"AQUILA","x":530,"y":140},{"s":"AQUILA","x":560,"y":140},{"s":"AQUILA","x":600,"y":139},{"s":"AQUILA","x":650,"y":138},{"s":"AQUILA","x":680,"y":136},{"s":"AQUILA","x":700,"y":137},{"s":"AQUILA","x":720,"y":135},{"s":"AQUILA","x":750,"y":134},{"s":"AQUILA","x":800,"y":134},{"s":"AQUILA","x":850,"y":136},{"s":"AQUILA","x":880,"y":133},{"s":"AQUILA","x":900,"y":133},{"s":"AQUILA","x":930,"y":132},{"s":"AQUILA","x":950,"y":135},{"s":"AQUILA","x":970,"y":131},{"s":"AQUILA","x":1000,"y":130.5},
{"s":"QSGD","x":10,"y":170},{"s":"QSGD","x":1000,"y":170}
],
"f_raw":[{"x":5,"y":187},{"x":8,"y":178},{"x":10,"y":170},{"x":20,"y":164},{"x":30,"y":172},{"x":40,"y":163},{"x":50,"y":170},{"x":60,"y":166},{"x":70,"y":172},{"x":80,"y":165},{"x":90,"y":173},{"x":100,"y":168},{"x":110,"y":170},{"x":120,"y":166},{"x":140,"y":170},{"x":160,"y":163},{"x":180,"y":166},{"x":200,"y":157},{"x":220,"y":161},{"x":240,"y":154},{"x":260,"y":156},{"x":280,"y":150},{"x":300,"y":155},{"x":320,"y":147},{"x":340,"y":152},{"x":360,"y":144},{"x":380,"y":150},{"x":400,"y":143},{"x":420,"y":147},{"x":440,"y":141},{"x":460,"y":145},{"x":480,"y":139},{"x":500,"y":144},{"x":520,"y":137},{"x":540,"y":142},{"x":560,"y":136},{"x":580,"y":141},{"x":600,"y":136},{"x":620,"y":140},{"x":640,"y":134},{"x":660,"y":139},{"x":680,"y":133},{"x":700,"y":139},{"x":720,"y":132},{"x":740,"y":137},{"x":760,"y":131},{"x":780,"y":136},{"x":800,"y":131},{"x":820,"y":137},{"x":840,"y":130},{"x":860,"y":135},{"x":880,"y":129},{"x":900,"y":135},{"x":920,"y":130},{"x":940,"y":134},{"x":960,"y":128},{"x":980,"y":133},{"x":1000,"y":129}],
"g":[
{"s":"QSGD","x":8,"y":9897},{"s":"QSGD","x":12,"y":2981},{"s":"QSGD","x":16,"y":1097},{"s":"QSGD","x":20,"y":545},{"s":"QSGD","x":25,"y":270},{"s":"QSGD","x":30,"y":164},{"s":"QSGD","x":40,"y":99.5},{"s":"QSGD","x":50,"y":73.7},{"s":"QSGD","x":60,"y":57.4},{"s":"QSGD","x":70,"y":47},{"s":"QSGD","x":80,"y":40.4},{"s":"QSGD","x":90,"y":34.8},{"s":"QSGD","x":100,"y":28.5},{"s":"QSGD","x":110,"y":24.5},{"s":"QSGD","x":125,"y":20.1},{"s":"QSGD","x":150,"y":16.4},{"s":"QSGD","x":175,"y":13.5},{"s":"QSGD","x":200,"y":11},{"s":"QSGD","x":225,"y":9.5},{"s":"QSGD","x":250,"y":7.8},{"s":"QSGD","x":275,"y":7.0},{"s":"QSGD","x":300,"y":5.75},{"s":"QSGD","x":325,"y":5.5},{"s":"QSGD","x":350,"y":4.7},{"s":"QSGD","x":375,"y":4.5},{"s":"QSGD","x":400,"y":4.1},{"s":"QSGD","x":425,"y":4.3},{"s":"QSGD","x":450,"y":3.86},{"s":"QSGD","x":465,"y":3.5},{"s":"QSGD","x":480,"y":3.67},
{"s":"LAQ","x":9,"y":8103},{"s":"LAQ","x":13,"y":2697},{"s":"LAQ","x":17,"y":1097},{"s":"LAQ","x":21,"y":602},{"s":"LAQ","x":26,"y":330},{"s":"LAQ","x":31,"y":200},{"s":"LAQ","x":40,"y":128},{"s":"LAQ","x":50,"y":90},{"s":"LAQ","x":60,"y":70},{"s":"LAQ","x":70,"y":57.4},{"s":"LAQ","x":80,"y":49.4},{"s":"LAQ","x":90,"y":44.7},{"s":"LAQ","x":100,"y":40.4},{"s":"LAQ","x":110,"y":36.6},{"s":"LAQ","x":125,"y":30},{"s":"LAQ","x":150,"y":24.5},{"s":"LAQ","x":175,"y":20.1},{"s":"LAQ","x":200,"y":16.4},{"s":"LAQ","x":225,"y":13.5},{"s":"LAQ","x":250,"y":11},{"s":"LAQ","x":275,"y":9.0},{"s":"LAQ","x":300,"y":7.4},{"s":"LAQ","x":325,"y":6.4},{"s":"LAQ","x":350,"y":5.2},{"s":"LAQ","x":375,"y":5.0},{"s":"LAQ","x":400,"y":4.5},{"s":"LAQ","x":425,"y":4.5},{"s":"LAQ","x":450,"y":4.3},{"s":"LAQ","x":475,"y":4.05},{"s":"LAQ","x":500,"y":3.67},{"s":"LAQ","x":510,"y":3.3},
{"s":"AdaQ","x":8,"y":8103},{"s":"AdaQ","x":12,"y":2697},{"s":"AdaQ","x":16,"y":1097},{"s":"AdaQ","x":20,"y":602},{"s":"AdaQ","x":25,"y":330},{"s":"AdaQ","x":30,"y":200},{"s":"AdaQ","x":40,"y":128},{"s":"AdaQ","x":50,"y":90},{"s":"AdaQ","x":60,"y":73.7},{"s":"AdaQ","x":70,"y":60.3},{"s":"AdaQ","x":80,"y":51.9},{"s":"AdaQ","x":90,"y":47},{"s":"AdaQ","x":100,"y":43.4},{"s":"AdaQ","x":125,"y":33.1},{"s":"AdaQ","x":150,"y":27.1},{"s":"AdaQ","x":175,"y":22.2},{"s":"AdaQ","x":200,"y":18.9},{"s":"AdaQ","x":225,"y":16.4},{"s":"AdaQ","x":250,"y":14.2},{"s":"AdaQ","x":275,"y":12.8},{"s":"AdaQ","x":300,"y":11.6},{"s":"AdaQ","x":325,"y":10},{"s":"AdaQ","x":350,"y":8.2},{"s":"AdaQ","x":375,"y":7.0},{"s":"AdaQ","x":400,"y":6.05},{"s":"AdaQ","x":425,"y":5.75},{"s":"AdaQ","x":450,"y":5.2},{"s":"AdaQ","x":475,"y":4.95},{"s":"AdaQ","x":500,"y":4.85},{"s":"AdaQ","x":525,"y":4.57},{"s":"AdaQ","x":550,"y":4.7},{"s":"AdaQ","x":575,"y":4.26},{"s":"AdaQ","x":600,"y":4.14},{"s":"AdaQ","x":625,"y":3.67},{"s":"AdaQ","x":650,"y":3.06},{"s":"AdaQ","x":675,"y":3.25},{"s":"AdaQ","x":700,"y":3.22},{"s":"AdaQ","x":710,"y":3.49},
{"s":"LAdaQ","x":9,"y":8500},{"s":"LAdaQ","x":13,"y":2800},{"s":"LAdaQ","x":17,"y":1150},{"s":"LAdaQ","x":21,"y":620},{"s":"LAdaQ","x":26,"y":340},{"s":"LAdaQ","x":31,"y":205},{"s":"LAdaQ","x":41,"y":130},{"s":"LAdaQ","x":51,"y":92},{"s":"LAdaQ","x":61,"y":75},{"s":"LAdaQ","x":71,"y":61},{"s":"LAdaQ","x":81,"y":53},{"s":"LAdaQ","x":91,"y":48},{"s":"LAdaQ","x":101,"y":44},{"s":"LAdaQ","x":126,"y":34},{"s":"LAdaQ","x":151,"y":27.5},{"s":"LAdaQ","x":176,"y":22.5},{"s":"LAdaQ","x":201,"y":19.5},{"s":"LAdaQ","x":226,"y":16.8},{"s":"LAdaQ","x":251,"y":14.5},{"s":"LAdaQ","x":276,"y":13},{"s":"LAdaQ","x":301,"y":11.8},{"s":"LAdaQ","x":326,"y":10.2},{"s":"LAdaQ","x":351,"y":8.4},{"s":"LAdaQ","x":376,"y":7.2},{"s":"LAdaQ","x":401,"y":6.2},{"s":"LAdaQ","x":426,"y":5.8},{"s":"LAdaQ","x":451,"y":5.3},{"s":"LAdaQ","x":476,"y":5.0},{"s":"LAdaQ","x":501,"y":4.9},{"s":"LAdaQ","x":526,"y":4.65},{"s":"LAdaQ","x":551,"y":4.6},{"s":"LAdaQ","x":562,"y":5.1},{"s":"LAdaQ","x":576,"y":4.4},{"s":"LAdaQ","x":601,"y":4.2},{"s":"LAdaQ","x":626,"y":3.7},{"s":"LAdaQ","x":651,"y":3.1},{"s":"LAdaQ","x":676,"y":3.2},{"s":"LAdaQ","x":701,"y":3.25},{"s":"LAdaQ","x":710,"y":3.5},
{"s":"LENA","x":8,"y":5432},{"s":"LENA","x":12,"y":1480},{"s":"LENA","x":16,"y":602},{"s":"LENA","x":20,"y":330},{"s":"LENA","x":25,"y":181},{"s":"LENA","x":30,"y":121.5},{"s":"LENA","x":40,"y":77.5},{"s":"LENA","x":50,"y":57.4},{"s":"LENA","x":60,"y":47},{"s":"LENA","x":70,"y":40.4},{"s":"LENA","x":80,"y":34.8},{"s":"LENA","x":90,"y":31.5},{"s":"LENA","x":100,"y":27.1},{"s":"LENA","x":110,"y":22.2},{"s":"LENA","x":125,"y":17.3},{"s":"LENA","x":150,"y":12.2},{"s":"LENA","x":175,"y":10},{"s":"LENA","x":200,"y":8.2},{"s":"LENA","x":225,"y":7.0},{"s":"LENA","x":250,"y":5.75},{"s":"LENA","x":275,"y":4.95},{"s":"LENA","x":300,"y":4.05},{"s":"LENA","x":320,"y":3.16},{"s":"LENA","x":330,"y":3.32},{"s":"LENA","x":340,"y":3.39},
{"s":"MARINA","x":14,"y":13500},{"s":"MARINA","x":17,"y":4447},{"s":"MARINA","x":20,"y":1998},{"s":"MARINA","x":25,"y":898},{"s":"MARINA","x":30,"y":493},{"s":"MARINA","x":40,"y":270},{"s":"MARINA","x":50,"y":181},{"s":"MARINA","x":60,"y":134},{"s":"MARINA","x":70,"y":99.5},{"s":"MARINA","x":80,"y":73.7},{"s":"MARINA","x":90,"y":57.4},{"s":"MARINA","x":100,"y":49.4},{"s":"MARINA","x":110,"y":44.7},{"s":"MARINA","x":125,"y":36.6},{"s":"MARINA","x":150,"y":28.5},{"s":"MARINA","x":175,"y":23.3},{"s":"MARINA","x":200,"y":19.1},{"s":"MARINA","x":225,"y":15.6},{"s":"MARINA","x":250,"y":12.2},{"s":"MARINA","x":275,"y":10.5},{"s":"MARINA","x":300,"y":9.5},{"s":"MARINA","x":325,"y":8.2},{"s":"MARINA","x":350,"y":7.4},{"s":"MARINA","x":375,"y":6.4},{"s":"MARINA","x":400,"y":5.5},{"s":"MARINA","x":425,"y":4.95},{"s":"MARINA","x":450,"y":4.5},{"s":"MARINA","x":475,"y":4.5},{"s":"MARINA","x":500,"y":4.26},{"s":"MARINA","x":525,"y":4.05},{"s":"MARINA","x":540,"y":3.32},{"s":"MARINA","x":550,"y":3.49},
{"s":"AQUILA","x":5,"y":19930},{"s":"AQUILA","x":8,"y":6634},{"s":"AQUILA","x":12,"y":1808},{"s":"AQUILA","x":16,"y":992},{"s":"AQUILA","x":20,"y":602},{"s":"AQUILA","x":30,"y":299},{"s":"AQUILA","x":40,"y":181},{"s":"AQUILA","x":50,"y":134},{"s":"AQUILA","x":60,"y":116},{"s":"AQUILA","x":70,"y":86},{"s":"AQUILA","x":80,"y":74},{"s":"AQUILA","x":90,"y":52},{"s":"AQUILA","x":100,"y":45},{"s":"AQUILA","x":105,"y":37},{"s":"AQUILA","x":110,"y":27},{"s":"AQUILA","x":120,"y":18},{"s":"AQUILA","x":130,"y":12.2},{"s":"AQUILA","x":140,"y":7.4},{"s":"AQUILA","x":150,"y":6.4},{"s":"AQUILA","x":160,"y":5.75},{"s":"AQUILA","x":170,"y":5.2},{"s":"AQUILA","x":180,"y":4.5},{"s":"AQUILA","x":190,"y":4.7},{"s":"AQUILA","x":200,"y":4.3},{"s":"AQUILA","x":210,"y":4.05},{"s":"AQUILA","x":218,"y":3.67}
],
"h":[
{"s":"QSGD","x":8,"y":9.2},{"s":"QSGD","x":12,"y":8.0},{"s":"QSGD","x":16,"y":7.0},{"s":"QSGD","x":20,"y":6.3},{"s":"QSGD","x":25,"y":5.6},{"s":"QSGD","x":30,"y":5.1},{"s":"QSGD","x":40,"y":4.6},{"s":"QSGD","x":50,"y":4.3},{"s":"QSGD","x":60,"y":4.05},{"s":"QSGD","x":70,"y":3.85},{"s":"QSGD","x":80,"y":3.7},{"s":"QSGD","x":90,"y":3.55},{"s":"QSGD","x":100,"y":3.35},{"s":"QSGD","x":110,"y":3.2},{"s":"QSGD","x":125,"y":3.0},{"s":"QSGD","x":150,"y":2.8},{"s":"QSGD","x":175,"y":2.6},{"s":"QSGD","x":200,"y":2.4},{"s":"QSGD","x":225,"y":2.25},{"s":"QSGD","x":250,"y":2.05},{"s":"QSGD","x":275,"y":1.95},{"s":"QSGD","x":300,"y":1.75},{"s":"QSGD","x":325,"y":1.7},{"s":"QSGD","x":350,"y":1.55},{"s":"QSGD","x":375,"y":1.5},{"s":"QSGD","x":400,"y":1.42},{"s":"QSGD","x":425,"y":1.45},{"s":"QSGD","x":450,"y":1.35},{"s":"QSGD","x":465,"y":1.25},{"s":"QSGD","x":480,"y":1.3},
{"s":"LAQ","x":9,"y":9.0},{"s":"LAQ","x":13,"y":7.9},{"s":"LAQ","x":17,"y":7.0},{"s":"LAQ","x":21,"y":6.4},{"s":"LAQ","x":26,"y":5.8},{"s":"LAQ","x":31,"y":5.3},{"s":"LAQ","x":40,"y":4.85},{"s":"LAQ","x":50,"y":4.5},{"s":"LAQ","x":60,"y":4.25},{"s":"LAQ","x":70,"y":4.05},{"s":"LAQ","x":80,"y":3.9},{"s":"LAQ","x":90,"y":3.8},{"s":"LAQ","x":100,"y":3.7},{"s":"LAQ","x":110,"y":3.6},{"s":"LAQ","x":125,"y":3.4},{"s":"LAQ","x":150,"y":3.2},{"s":"LAQ","x":175,"y":3.0},{"s":"LAQ","x":200,"y":2.8},{"s":"LAQ","x":225,"y":2.6},{"s":"LAQ","x":250,"y":2.4},{"s":"LAQ","x":275,"y":2.2},{"s":"LAQ","x":300,"y":2.0},{"s":"LAQ","x":325,"y":1.85},{"s":"LAQ","x":350,"y":1.65},{"s":"LAQ","x":375,"y":1.6},{"s":"LAQ","x":400,"y":1.5},{"s":"LAQ","x":425,"y":1.5},{"s":"LAQ","x":450,"y":1.45},{"s":"LAQ","x":475,"y":1.4},{"s":"LAQ","x":500,"y":1.3},{"s":"LAQ","x":510,"y":1.2},
{"s":"AdaQ","x":8,"y":9.0},{"s":"AdaQ","x":12,"y":7.9},{"s":"AdaQ","x":16,"y":7.0},{"s":"AdaQ","x":20,"y":6.4},{"s":"AdaQ","x":25,"y":5.8},{"s":"AdaQ","x":30,"y":5.3},{"s":"AdaQ","x":40,"y":4.85},{"s":"AdaQ","x":50,"y":4.5},{"s":"AdaQ","x":60,"y":4.3},{"s":"AdaQ","x":70,"y":4.1},{"s":"AdaQ","x":80,"y":3.95},{"s":"AdaQ","x":90,"y":3.85},{"s":"AdaQ","x":100,"y":3.77},{"s":"AdaQ","x":125,"y":3.5},{"s":"AdaQ","x":150,"y":3.3},{"s":"AdaQ","x":175,"y":3.1},{"s":"AdaQ","x":200,"y":2.94},{"s":"AdaQ","x":225,"y":2.8},{"s":"AdaQ","x":250,"y":2.65},{"s":"AdaQ","x":275,"y":2.55},{"s":"AdaQ","x":300,"y":2.45},{"s":"AdaQ","x":325,"y":2.3},{"s":"AdaQ","x":350,"y":2.1},{"s":"AdaQ","x":375,"y":1.95},{"s":"AdaQ","x":400,"y":1.8},{"s":"AdaQ","x":425,"y":1.75},{"s":"AdaQ","x":450,"y":1.65},{"s":"AdaQ","x":475,"y":1.6},{"s":"AdaQ","x":500,"y":1.58},{"s":"AdaQ","x":525,"y":1.52},{"s":"AdaQ","x":550,"y":1.55},{"s":"AdaQ","x":575,"y":1.45},{"s":"AdaQ","x":600,"y":1.42},{"s":"AdaQ","x":625,"y":1.3},{"s":"AdaQ","x":650,"y":1.12},{"s":"AdaQ","x":675,"y":1.18},{"s":"AdaQ","x":700,"y":1.17},{"s":"AdaQ","x":710,"y":1.25},
{"s":"LAdaQ","x":9,"y":9.05},{"s":"LAdaQ","x":13,"y":7.94},{"s":"LAdaQ","x":17,"y":7.05},{"s":"LAdaQ","x":21,"y":6.43},{"s":"LAdaQ","x":26,"y":5.83},{"s":"LAdaQ","x":31,"y":5.32},{"s":"LAdaQ","x":41,"y":4.87},{"s":"LAdaQ","x":51,"y":4.52},{"s":"LAdaQ","x":61,"y":4.32},{"s":"LAdaQ","x":71,"y":4.11},{"s":"LAdaQ","x":81,"y":3.97},{"s":"LAdaQ","x":91,"y":3.87},{"s":"LAdaQ","x":101,"y":3.78},{"s":"LAdaQ","x":126,"y":3.53},{"s":"LAdaQ","x":151,"y":3.31},{"s":"LAdaQ","x":176,"y":3.11},{"s":"LAdaQ","x":201,"y":2.97},{"s":"LAdaQ","x":226,"y":2.82},{"s":"LAdaQ","x":251,"y":2.67},{"s":"LAdaQ","x":276,"y":2.56},{"s":"LAdaQ","x":301,"y":2.47},{"s":"LAdaQ","x":326,"y":2.32},{"s":"LAdaQ","x":351,"y":2.13},{"s":"LAdaQ","x":376,"y":1.97},{"s":"LAdaQ","x":401,"y":1.82},{"s":"LAdaQ","x":426,"y":1.76},{"s":"LAdaQ","x":451,"y":1.67},{"s":"LAdaQ","x":476,"y":1.61},{"s":"LAdaQ","x":501,"y":1.59},{"s":"LAdaQ","x":526,"y":1.54},{"s":"LAdaQ","x":551,"y":1.53},{"s":"LAdaQ","x":562,"y":1.63},{"s":"LAdaQ","x":576,"y":1.48},{"s":"LAdaQ","x":601,"y":1.44},{"s":"LAdaQ","x":626,"y":1.31},{"s":"LAdaQ","x":651,"y":1.13},{"s":"LAdaQ","x":676,"y":1.16},{"s":"LAdaQ","x":701,"y":1.18},{"s":"LAdaQ","x":710,"y":1.25},
{"s":"LENA","x":8,"y":8.6},{"s":"LENA","x":12,"y":7.3},{"s":"LENA","x":16,"y":6.4},{"s":"LENA","x":20,"y":5.8},{"s":"LENA","x":25,"y":5.2},{"s":"LENA","x":30,"y":4.8},{"s":"LENA","x":40,"y":4.35},{"s":"LENA","x":50,"y":4.05},{"s":"LENA","x":60,"y":3.85},{"s":"LENA","x":70,"y":3.7},{"s":"LENA","x":80,"y":3.55},{"s":"LENA","x":90,"y":3.45},{"s":"LENA","x":100,"y":3.3},{"s":"LENA","x":110,"y":3.1},{"s":"LENA","x":125,"y":2.85},{"s":"LENA","x":150,"y":2.5},{"s":"LENA","x":175,"y":2.3},{"s":"LENA","x":200,"y":2.1},{"s":"LENA","x":225,"y":1.95},{"s":"LENA","x":250,"y":1.75},{"s":"LENA","x":275,"y":1.6},{"s":"LENA","x":300,"y":1.4},{"s":"LENA","x":320,"y":1.15},{"s":"LENA","x":330,"y":1.2},{"s":"LENA","x":340,"y":1.22},
{"s":"MARINA","x":14,"y":9.2},{"s":"MARINA","x":17,"y":8.4},{"s":"MARINA","x":20,"y":7.6},{"s":"MARINA","x":25,"y":6.8},{"s":"MARINA","x":30,"y":6.2},{"s":"MARINA","x":40,"y":5.6},{"s":"MARINA","x":50,"y":5.2},{"s":"MARINA","x":60,"y":4.9},{"s":"MARINA","x":70,"y":4.6},{"s":"MARINA","x":80,"y":4.3},{"s":"MARINA","x":90,"y":4.05},{"s":"MARINA","x":100,"y":3.9},{"s":"MARINA","x":110,"y":3.8},{"s":"MARINA","x":125,"y":3.6},{"s":"MARINA","x":150,"y":3.35},{"s":"MARINA","x":175,"y":3.15},{"s":"MARINA","x":200,"y":2.95},{"s":"MARINA","x":225,"y":2.75},{"s":"MARINA","x":250,"y":2.5},{"s":"MARINA","x":275,"y":2.35},{"s":"MARINA","x":300,"y":2.25},{"s":"MARINA","x":325,"y":2.1},{"s":"MARINA","x":350,"y":2.0},{"s":"MARINA","x":375,"y":1.85},{"s":"MARINA","x":400,"y":1.7},{"s":"MARINA","x":425,"y":1.6},{"s":"MARINA","x":450,"y":1.5},{"s":"MARINA","x":475,"y":1.5},{"s":"MARINA","x":500,"y":1.45},{"s":"MARINA","x":525,"y":1.4},{"s":"MARINA","x":540,"y":1.2},{"s":"MARINA","x":550,"y":1.25},
{"s":"AQUILA","x":5,"y":9.9},{"s":"AQUILA","x":8,"y":8.8},{"s":"AQUILA","x":12,"y":7.5},{"s":"AQUILA","x":16,"y":6.9},{"s":"AQUILA","x":20,"y":6.4},{"s":"AQUILA","x":30,"y":5.7},{"s":"AQUILA","x":40,"y":5.2},{"s":"AQUILA","x":50,"y":4.9},{"s":"AQUILA","x":60,"y":4.75},{"s":"AQUILA","x":70,"y":4.45},{"s":"AQUILA","x":80,"y":4.3},{"s":"AQUILA","x":90,"y":3.95},{"s":"AQUILA","x":100,"y":3.8},{"s":"AQUILA","x":105,"y":3.6},{"s":"AQUILA","x":110,"y":3.3},{"s":"AQUILA","x":120,"y":2.9},{"s":"AQUILA","x":130,"y":2.5},{"s":"AQUILA","x":140,"y":2.0},{"s":"AQUILA","x":150,"y":1.85},{"s":"AQUILA","x":160,"y":1.75},{"s":"AQUILA","x":170,"y":1.65},{"s":"AQUILA","x":180,"y":1.5},{"s":"AQUILA","x":190,"y":1.55},{"s":"AQUILA","x":200,"y":1.45},{"s":"AQUILA","x":210,"y":1.4},{"s":"AQUILA","x":218,"y":1.3}
],
"i":[
{"s":"QSGD","x":10,"y":965},{"s":"QSGD","x":500,"y":965},
{"s":"LAQ","x":10,"y":1050},{"s":"LAQ","x":13,"y":990},{"s":"LAQ","x":20,"y":1005},{"s":"LAQ","x":30,"y":1035},{"s":"LAQ","x":40,"y":1050},{"s":"LAQ","x":50,"y":1030},{"s":"LAQ","x":60,"y":1045},{"s":"LAQ","x":80,"y":1040},{"s":"LAQ","x":100,"y":1048},{"s":"LAQ","x":120,"y":1055},{"s":"LAQ","x":140,"y":1065},{"s":"LAQ","x":160,"y":1072},{"s":"LAQ","x":180,"y":1075},{"s":"LAQ","x":190,"y":1062},{"s":"LAQ","x":200,"y":1052},{"s":"LAQ","x":210,"y":1040},{"s":"LAQ","x":220,"y":1030},{"s":"LAQ","x":240,"y":1035},{"s":"LAQ","x":260,"y":1045},{"s":"LAQ","x":280,"y":1050},{"s":"LAQ","x":300,"y":1065},{"s":"LAQ","x":320,"y":1050},{"s":"LAQ","x":340,"y":1060},{"s":"LAQ","x":360,"y":1048},{"s":"LAQ","x":380,"y":1062},{"s":"LAQ","x":400,"y":1072},{"s":"LAQ","x":420,"y":1050},{"s":"LAQ","x":440,"y":1062},{"s":"LAQ","x":460,"y":1050},{"s":"LAQ","x":480,"y":1070},{"s":"LAQ","x":500,"y":1050},
{"s":"LAdaQ","x":10,"y":720},{"s":"LAdaQ","x":15,"y":830},{"s":"LAdaQ","x":20,"y":900},{"s":"LAdaQ","x":25,"y":950},{"s":"LAdaQ","x":30,"y":985},{"s":"LAdaQ","x":40,"y":1030},{"s":"LAdaQ","x":60,"y":1080},{"s":"LAdaQ","x":80,"y":1120},{"s":"LAdaQ","x":100,"y":1160},{"s":"LAdaQ","x":150,"y":1270},{"s":"LAdaQ","x":200,"y":1380},{"s":"LAdaQ","x":250,"y":1490},{"s":"LAdaQ","x":300,"y":1590},{"s":"LAdaQ","x":350,"y":1680},{"s":"LAdaQ","x":400,"y":1750},{"s":"LAdaQ","x":450,"y":1790},{"s":"LAdaQ","x":500,"y":1820},
{"s":"AdaQ","x":10,"y":820},{"s":"AdaQ","x":15,"y":880},{"s":"AdaQ","x":20,"y":930},{"s":"AdaQ","x":30,"y":990},{"s":"AdaQ","x":40,"y":1030},{"s":"AdaQ","x":60,"y":1080},{"s":"AdaQ","x":80,"y":1120},{"s":"AdaQ","x":100,"y":1160},{"s":"AdaQ","x":150,"y":1270},{"s":"AdaQ","x":200,"y":1380},{"s":"AdaQ","x":250,"y":1490},{"s":"AdaQ","x":300,"y":1590},{"s":"AdaQ","x":350,"y":1680},{"s":"AdaQ","x":400,"y":1750},{"s":"AdaQ","x":450,"y":1790},{"s":"AdaQ","x":500,"y":1820},
{"s":"LENA","x":10,"y":1100},{"s":"LENA","x":11,"y":850},{"s":"LENA","x":15,"y":820},{"s":"LENA","x":20,"y":760},{"s":"LENA","x":25,"y":720},{"s":"LENA","x":30,"y":690},{"s":"LENA","x":500,"y":690},
{"s":"MARINA","x":10,"y":1580},{"s":"MARINA","x":11,"y":1100},{"s":"MARINA","x":171,"y":1100},{"s":"MARINA","x":172,"y":1580},{"s":"MARINA","x":180,"y":1580},{"s":"MARINA","x":181,"y":1100},{"s":"MARINA","x":207,"y":1100},{"s":"MARINA","x":208,"y":1580},{"s":"MARINA","x":217,"y":1580},{"s":"MARINA","x":218,"y":1100},{"s":"MARINA","x":500,"y":1100},
{"s":"AQUILA","x":10,"y":450},{"s":"AQUILA","x":50,"y":455},{"s":"AQUILA","x":100,"y":450},{"s":"AQUILA","x":150,"y":448},{"s":"AQUILA","x":200,"y":452},{"s":"AQUILA","x":210,"y":462},{"s":"AQUILA","x":230,"y":452},{"s":"AQUILA","x":250,"y":445},{"s":"AQUILA","x":270,"y":440},{"s":"AQUILA","x":290,"y":447},{"s":"AQUILA","x":300,"y":452},{"s":"AQUILA","x":320,"y":440},{"s":"AQUILA","x":340,"y":460},{"s":"AQUILA","x":350,"y":478},{"s":"AQUILA","x":360,"y":470},{"s":"AQUILA","x":380,"y":465},{"s":"AQUILA","x":400,"y":472},{"s":"AQUILA","x":420,"y":458},{"s":"AQUILA","x":430,"y":470},{"s":"AQUILA","x":440,"y":455},{"s":"AQUILA","x":450,"y":470},{"s":"AQUILA","x":470,"y":480},{"s":"AQUILA","x":480,"y":490},{"s":"AQUILA","x":490,"y":475},{"s":"AQUILA","x":500,"y":480}
],
"i_band":[{"x":0,"lo":0,"hi":1380},{"x":3,"lo":0,"hi":1300},{"x":10,"lo":0,"hi":1290},{"x":30,"lo":0,"hi":1310},{"x":50,"lo":0,"hi":1325},{"x":80,"lo":0,"hi":1310},{"x":100,"lo":0,"hi":1300},{"x":130,"lo":0,"hi":1295},{"x":160,"lo":0,"hi":1285},{"x":180,"lo":0,"hi":1280},{"x":190,"lo":0,"hi":1285},{"x":195,"lo":0,"hi":1270},{"x":197,"lo":40,"hi":600},{"x":200,"lo":10,"hi":900},{"x":203,"lo":60,"hi":650},{"x":206,"lo":20,"hi":700},{"x":210,"lo":150,"hi":960},{"x":213,"lo":100,"hi":650},{"x":216,"lo":230,"hi":880},{"x":220,"lo":280,"hi":700},{"x":225,"lo":300,"hi":960},{"x":228,"lo":260,"hi":640},{"x":235,"lo":330,"hi":620},{"x":245,"lo":300,"hi":580},{"x":255,"lo":350,"hi":640},{"x":265,"lo":290,"hi":600},{"x":275,"lo":330,"hi":660},{"x":290,"lo":300,"hi":620},{"x":305,"lo":280,"hi":640},{"x":320,"lo":330,"hi":600},{"x":335,"lo":260,"hi":700},{"x":345,"lo":300,"hi":740},{"x":350,"lo":220,"hi":880},{"x":355,"lo":300,"hi":700},{"x":365,"lo":250,"hi":660},{"x":380,"lo":320,"hi":640},{"x":395,"lo":270,"hi":740},{"x":410,"lo":340,"hi":620},{"x":425,"lo":300,"hi":700},{"x":440,"lo":330,"hi":640},{"x":455,"lo":280,"hi":680},{"x":470,"lo":360,"hi":620},{"x":485,"lo":330,"hi":660},{"x":500,"lo":380,"hi":560}],
"i_blue":[{"x":10,"lo":375,"hi":525},{"x":50,"lo":380,"hi":528},{"x":100,"lo":383,"hi":518},{"x":150,"lo":388,"hi":512},{"x":198,"lo":392,"hi":508},{"x":202,"lo":410,"hi":505},{"x":210,"lo":425,"hi":505},{"x":230,"lo":435,"hi":495},{"x":250,"lo":442,"hi":485},{"x":260,"lo":448,"hi":472}],
"j_o":[{"x":1,"y":1900},{"x":1.5,"y":800},{"x":10,"y":800}],
"j_ada":[{"x":1,"y":930},{"x":12,"y":930},{"x":18,"y":950},{"x":22,"y":1000},{"x":27,"y":1045},{"x":32,"y":1062},{"x":40,"y":1066},{"x":55,"y":1068},{"x":65,"y":1085},{"x":75,"y":1120},{"x":85,"y":1150},{"x":95,"y":1177},{"x":110,"y":1192},{"x":125,"y":1205},{"x":145,"y":1232},{"x":160,"y":1262},{"x":170,"y":1282},{"x":180,"y":1290},{"x":200,"y":1322}],
"j_g":[{"x":9.6,"y":915},{"x":10,"y":1150},{"x":10.5,"y":800}],
"j_lg":[{"x":105,"y":800},{"x":110,"y":802},{"x":112,"y":840},{"x":114,"y":800},{"x":118,"y":845},{"x":121,"y":800},{"x":124,"y":842},{"x":127,"y":800},{"x":140,"y":805},{"x":143,"y":860},{"x":146,"y":805},{"x":150,"y":848},{"x":153,"y":805},{"x":160,"y":810},{"x":163,"y":845},{"x":166,"y":800},{"x":185,"y":800},{"x":188,"y":830},{"x":191,"y":800},{"x":195,"y":805},{"x":198,"y":870},{"x":200,"y":805}],
"j_c":[{"x":10,"y":800},{"x":30,"y":798},{"x":45,"y":795},{"x":50,"y":785},{"x":55,"y":798},{"x":60,"y":782},{"x":65,"y":795},{"x":70,"y":780},{"x":75,"y":792},{"x":80,"y":775},{"x":85,"y":790},{"x":90,"y":772},{"x":95,"y":788},{"x":100,"y":768},{"x":105,"y":780},{"x":110,"y":765},{"x":115,"y":790},{"x":120,"y":775},{"x":125,"y":793},{"x":130,"y":772},{"x":135,"y":790},{"x":140,"y":770},{"x":145,"y":788},{"x":150,"y":775},{"x":155,"y":795},{"x":160,"y":776},{"x":165,"y":792},{"x":170,"y":778},{"x":175,"y":795},{"x":180,"y":772},{"x":185,"y":792},{"x":190,"y":778},{"x":195,"y":790},{"x":200,"y":780}],
"j_p":[{"x":171,"y":800},{"x":171.7,"y":1900},{"x":174,"y":1900},{"x":174.6,"y":800}],
"k_o":[{"x":2,"y":360},{"x":2.5,"y":170},{"x":10,"y":170}],
"k_p":[{"x":168,"y":170},{"x":169,"y":360},{"x":173,"y":360},{"x":174,"y":170},{"x":203,"y":170},{"x":204,"y":360},{"x":208,"y":360},{"x":209,"y":170}],
"k_g":[{"x":9,"y":170},{"x":10,"y":246},{"x":11,"y":170}],
"k_lg":[{"x":10,"y":175},{"x":15,"y":195},{"x":20,"y":180},{"x":25,"y":172},{"x":35,"y":185},{"x":40,"y":170},{"x":50,"y":183},{"x":55,"y":172},{"x":70,"y":180},{"x":75,"y":170},{"x":90,"y":186},{"x":95,"y":171},{"x":110,"y":182},{"x":115,"y":170},{"x":130,"y":185},{"x":135,"y":170},{"x":150,"y":192},{"x":155,"y":170},{"x":180,"y":175},{"x":200,"y":171},{"x":250,"y":170}],
"k_c":[{"x":5,"y":168},{"x":10,"y":155},{"x":20,"y":167},{"x":30,"y":152},{"x":40,"y":165},{"x":50,"y":154},{"x":60,"y":166},{"x":70,"y":153},{"x":80,"y":167},{"x":90,"y":156},{"x":100,"y":168},{"x":110,"y":158},{"x":120,"y":167},{"x":140,"y":158},{"x":160,"y":166},{"x":180,"y":160},{"x":200,"y":168},{"x":230,"y":163},{"x":260,"y":170},{"x":300,"y":165},{"x":330,"y":170}],
"k_lp":[{"x":2,"y":120},{"x":4,"y":192},{"x":10,"y":194},{"x":20,"y":190},{"x":30,"y":196},{"x":40,"y":191},{"x":50,"y":197},{"x":60,"y":190},{"x":70,"y":196},{"x":80,"y":192},{"x":90,"y":197},{"x":100,"y":191},{"x":110,"y":196},{"x":120,"y":192},{"x":130,"y":197},{"x":140,"y":192},{"x":150,"y":196},{"x":170,"y":195},{"x":200,"y":197},{"x":270,"y":198}],
"l_p":[{"x":0.5,"y":1000},{"x":1,"y":5850},{"x":1.5,"y":1000},{"x":171,"y":1100},{"x":172,"y":5850},{"x":173,"y":1100},{"x":206,"y":1100},{"x":207,"y":5850},{"x":208,"y":1100}],
"l_y":[{"x":1,"y":3700},{"x":2,"y":900},{"x":10,"y":900}],
"l_c":[{"x":10,"y":950},{"x":20,"y":1100},{"x":30,"y":980},{"x":40,"y":1090},{"x":50,"y":990},{"x":60,"y":1100},{"x":80,"y":1000},{"x":100,"y":1090},{"x":120,"y":1010},{"x":140,"y":1100},{"x":160,"y":1020},{"x":180,"y":1110},{"x":200,"y":1020},{"x":250,"y":1080},{"x":300,"y":1040},{"x":350,"y":1090},{"x":400,"y":1050},{"x":450,"y":1090},{"x":500,"y":1050}]
},
"concat":[
{"width":262,"height":196,"title":"(a) Accuracy v.s. Transmitted Bits","resolve":{"axis":{"x":"independent","y":"independent"}},"layer":[
 {"data":{"name":"a"},"mark":{"type":"line","strokeWidth":1.3,"clip":true},"encoding":{"x":{"field":"x","type":"quantitative","scale":{"domain":[-4,237],"nice":false,"zero":false},"axis":{"title":"Total Transmitted Bits (GB)","values":[0,50,100,150,200],"format":"d"}},"y":{"field":"y","type":"quantitative","scale":{"domain":[23.7,71.1],"nice":false,"zero":false},"axis":{"title":"Accuracy(%)","values":[30,40,50,60,70],"format":"d"}},"color":{"field":"s","type":"nominal","scale":{"domain":["QSGD","LAQ","AdaQ","LAdaQ","LENA","MARINA","AQUILA"],"range":["#ff8c00","#17c9c9","#ffc20e","#d670d6","#5fbf1f","#ff0000","#0000ff"]},"legend":{"orient":"bottom-right","title":null}}}},
 {"data":{"values":[{}]},"mark":{"type":"rule","opacity":0},"encoding":{"x":{"datum":0,"type":"quantitative","axis":{"orient":"top","title":"100% (100 devices)@CIFAR-10@IID","labels":false,"ticks":false,"domain":false,"titlePadding":5,"minExtent":0,"maxExtent":0}}}}
]},
{"width":262,"height":196,"title":"(b) Loss v.s. Transmitted Bits","resolve":{"axis":{"x":"independent","y":"independent"}},"layer":[
 {"data":{"name":"b"},"mark":{"type":"line","strokeWidth":1.3,"clip":true},"encoding":{"x":{"field":"x","type":"quantitative","scale":{"domain":[-5,237],"nice":false,"zero":false},"axis":{"title":"Total Transmitted Bits (GB)","values":[0,50,100,150,200],"format":"d"}},"y":{"field":"y","type":"quantitative","scale":{"domain":[0.81,2.05],"nice":false,"zero":false},"axis":{"title":"Training Loss","values":[1.0,1.2,1.4,1.6,1.8,2.0],"format":".1f"}},"color":{"field":"s","type":"nominal","scale":{"domain":["QSGD","LAQ","AdaQ","LAdaQ","LENA","MARINA","AQUILA"],"range":["#ff8c00","#17c9c9","#ffc20e","#d670d6","#5fbf1f","#ff0000","#0000ff"]},"legend":{"orient":"top-right","title":null}}}},
 {"data":{"values":[{}]},"mark":{"type":"rule","opacity":0},"encoding":{"x":{"datum":0,"type":"quantitative","axis":{"orient":"top","title":"100% (100 devices)@CIFAR-10@IID","labels":false,"ticks":false,"domain":false,"titlePadding":5,"minExtent":0,"maxExtent":0}}}}
]},
{"width":262,"height":196,"title":"(c) Transmitted Bits per epoch","resolve":{"axis":{"x":"independent","y":"independent"}},"layer":[
 {"data":{"name":"c_raw"},"mark":{"type":"line","color":"#a8d8ea","strokeWidth":1,"opacity":0.8,"clip":true},"encoding":{"x":{"field":"x","type":"quantitative","axis":null},"y":{"field":"y","type":"quantitative","axis":null}}},
 {"data":{"name":"c"},"mark":{"type":"line","strokeWidth":1.3,"clip":true},"encoding":{"x":{"field":"x","type":"quantitative","scale":{"domain":[-10,210],"nice":false,"zero":false},"axis":{"title":"Global Epoch","values":[0,25,50,75,100,125,150,175,200],"format":"d"}},"y":{"field":"y","type":"quantitative","scale":{"domain":[590,1352],"nice":false,"zero":false},"axis":{"title":"Transmitted Bits / Epoch (MB)","values":[600,700,800,900,1000,1100,1200,1300],"format":"d"}},"color":{"field":"s","type":"nominal","scale":{"domain":["QSGD","LAQ","AQUILA","AdaQ","LENA","LAdaQ","MARINA"],"range":["#ff8c00","#17c9c9","#0000ff","#ffc20e","#5fbf1f","#d670d6","#ff0000"]},"legend":{"orient":"top-left","title":null,"columns":3}}}},
 {"data":{"values":[{}]},"mark":{"type":"rule","opacity":0},"encoding":{"x":{"datum":0,"type":"quantitative","axis":{"orient":"top","title":"100% (100 devices)@CIFAR-10@IID","labels":false,"ticks":false,"domain":false,"titlePadding":5,"minExtent":0,"maxExtent":0}}}}
]},
{"width":262,"height":196,"title":"(d) Accuracy v.s. Transmitted Bits","resolve":{"axis":{"x":"independent","y":"independent"}},"layer":[
 {"data":{"name":"d"},"mark":{"type":"line","strokeWidth":1.3,"clip":true},"encoding":{"x":{"field":"x","type":"quantitative","scale":{"domain":[-9,234],"nice":false,"zero":false},"axis":{"title":"Total Transmitted Bits (GB)","values":[0,50,100,150,200],"format":"d"}},"y":{"field":"y","type":"quantitative","scale":{"domain":[-1.35,51.5],"nice":false,"zero":false},"axis":{"title":"Accuracy(%)","values":[0,10,20,30,40,50],"format":"d"}},"color":{"field":"s","type":"nominal","scale":{"domain":["QSGD","LAQ","AdaQ","LAdaQ","LENA","MARINA","AQUILA"],"range":["#ff8c00","#17c9c9","#ffc20e","#d670d6","#5fbf1f","#ff0000","#0000ff"]},"legend":{"orient":"bottom-right","title":null}}}},
 {"data":{"values":[{}]},"mark":{"type":"rule","opacity":0},"encoding":{"x":{"datum":0,"type":"quantitative","axis":{"orient":"top","title":"100% (100 devices)@CIFAR-100@IID","labels":false,"ticks":false,"domain":false,"titlePadding":5,"minExtent":0,"maxExtent":0}}}}
]},
{"width":262,"height":196,"title":"(e) Loss v.s. Transmitted Bits","resolve":{"axis":{"x":"independent","y":"independent"}},"layer":[
 {"data":{"name":"e"},"mark":{"type":"line","strokeWidth":1.3,"clip":true},"encoding":{"x":{"field":"x","type":"quantitative","scale":{"domain":[-10,235],"nice":false,"zero":false},"axis":{"title":"Total Transmitted Bits (GB)","values":[0,50,100,150,200],"format":"d"}},"y":{"field":"y","type":"quantitative","scale":{"domain":[1.76,4.77],"nice":false,"zero":false},"axis":{"title":"Training Loss","values":[2.0,2.5,3.0,3.5,4.0,4.5],"format":".1f"}},"color":{"field":"s","type":"nominal","scale":{"domain":["QSGD","LAQ","AdaQ","LAdaQ","LENA","MARINA","AQUILA"],"range":["#ff8c00","#17c9c9","#ffc20e","#d670d6","#5fbf1f","#ff0000","#0000ff"]},"legend":{"orient":"top-right","title":null}}}},
 {"data":{"values":[{}]},"mark":{"type":"rule","opacity":0},"encoding":{"x":{"datum":0,"type":"quantitative","axis":{"orient":"top","title":"100% (100 devices)@CIFAR-100@IID","labels":false,"ticks":false,"domain":false,"titlePadding":5,"minExtent":0,"maxExtent":0}}}}
]},
{"width":262,"height":196,"title":"(f) Transmitted Bits per epoch","resolve":{"axis":{"x":"independent","y":"independent"}},"layer":[
 {"data":{"name":"f_raw"},"mark":{"type":"line","color":"#a8d8ea","strokeWidth":1,"opacity":0.7,"clip":true},"encoding":{"x":{"field":"x","type":"quantitative","axis":null},"y":{"field":"y","type":"quantitative","axis":null}}},
 {"data":{"name":"f"},"mark":{"type":"line","strokeWidth":1.3,"clip":true},"encoding":{"x":{"field":"x","type":"quantitative","scale":{"domain":[-50,1050],"nice":false,"zero":false},"axis":{"title":"Global Epoch","values":[0,200,400,600,800,1000],"format":"d"}},"y":{"field":"y","type":"quantitative","scale":{"domain":[121,282],"nice":false,"zero":false},"axis":{"title":"Transmitted Bits / Epoch (MB)","values":[140,160,180,200,220,240,260,280],"format":"d"}},"color":{"field":"s","type":"nominal","scale":{"domain":["QSGD","LAQ","AQUILA","AdaQ","LENA","LAdaQ","MARINA"],"range":["#ff8c00","#17c9c9","#0000ff","#ffc20e","#5fbf1f","#d670d6","#ff0000"]},"legend":{"orient":"top-left","title":null,"columns":3}}}},
 {"data":{"values":[{}]},"mark":{"type":"rule","opacity":0},"encoding":{"x":{"datum":0,"type":"quantitative","axis":{"orient":"top","title":"100% (100 devices)@CIFAR-100@IID","labels":false,"ticks":false,"domain":false,"titlePadding":5,"minExtent":0,"maxExtent":0}}}}
]},
{"width":262,"height":196,"title":"(g) Perplexity v.s. Transmitted Bits","resolve":{"axis":{"x":"independent","y":"independent"}},"layer":[
 {"data":{"name":"g"},"mark":{"type":"line","strokeWidth":1.3,"opacity":0.85,"clip":true},"encoding":{"x":{"field":"x","type":"quantitative","scale":{"domain":[-30,744],"nice":false,"zero":false},"axis":{"title":"Total Transmitted Bits (GB)","values":[0,100,200,300,400,500,600,700],"format":"d"}},"y":{"field":"y","type":"quantitative","scale":{"type":"log","domain":[1.9,31100],"nice":false},"axis":{"title":"Perplexity","values":[10,100,1000,10000],"labelExpr":"datum.value == 10 ? '10¹' : datum.value == 100 ? '10²' : datum.value == 1000 ? '10³' : '10⁴'"}},"color":{"field":"s","type":"nominal","scale":{"domain":["QSGD","LAQ","AdaQ","LAdaQ","LENA","MARINA","AQUILA"],"range":["#ff8c00","#17c9c9","#ffc20e","#d670d6","#5fbf1f","#ff0000","#0000ff"]},"legend":{"orient":"top-right","title":null}}}},
 {"data":{"values":[{}]},"mark":{"type":"rule","opacity":0},"encoding":{"x":{"datum":0,"type":"quantitative","axis":{"orient":"top","title":"100% (80 devices)@WikiText-2@IID","labels":false,"ticks":false,"domain":false,"titlePadding":5,"minExtent":0,"maxExtent":0}}}}
]},
{"width":262,"height":196,"title":"(h) Loss v.s. Transmitted Bits","resolve":{"axis":{"x":"independent","y":"independent"}},"layer":[
 {"data":{"name":"h"},"mark":{"type":"line","strokeWidth":1.3,"opacity":0.85,"clip":true},"encoding":{"x":{"field":"x","type":"quantitative","scale":{"domain":[-33,747],"nice":false,"zero":false},"axis":{"title":"Total Transmitted Bits (GB)","values":[0,100,200,300,400,500,600,700],"format":"d"}},"y":{"field":"y","type":"quantitative","scale":{"domain":[0.68,10.37],"nice":false,"zero":false},"axis":{"title":"Training Loss","values":[2,4,6,8,10],"format":"d"}},"color":{"field":"s","type":"nominal","scale":{"domain":["QSGD","LAQ","AdaQ","LAdaQ","LENA","MARINA","AQUILA"],"range":["#ff8c00","#17c9c9","#ffc20e","#d670d6","#5fbf1f","#ff0000","#0000ff"]},"legend":{"orient":"top-right","title":null}}}},
 {"data":{"values":[{}]},"mark":{"type":"rule","opacity":0},"encoding":{"x":{"datum":0,"type":"quantitative","axis":{"orient":"top","title":"100% (80 devices)@WikiText-2@IID","labels":false,"ticks":false,"domain":false,"titlePadding":5,"minExtent":0,"maxExtent":0}}}}
]},
{"width":262,"height":196,"title":"(i) Transmitted Bits per epoch","resolve":{"axis":{"x":"independent","y":"independent"}},"layer":[
 {"data":{"name":"i_band"},"mark":{"type":"area","color":"#add8e6","opacity":0.45,"clip":true},"encoding":{"x":{"field":"x","type":"quantitative","axis":null},"y":{"field":"lo","type":"quantitative","axis":null},"y2":{"field":"hi"}}},
 {"data":{"name":"i_blue"},"mark":{"type":"area","color":"#0000ff","opacity":0.9,"clip":true},"encoding":{"x":{"field":"x","type":"quantitative","axis":null},"y":{"field":"lo","type":"quantitative","axis":null},"y2":{"field":"hi"}}},
 {"data":{"name":"i"},"mark":{"type":"line","strokeWidth":1.3,"clip":true},"encoding":{"x":{"field":"x","type":"quantitative","scale":{"domain":[-25,525],"nice":false,"zero":false},"axis":{"title":"Global Epoch","values":[0,100,200,300,400,500],"format":"d"}},"y":{"field":"y","type":"quantitative","scale":{"domain":[-88,1904],"nice":false,"zero":false},"axis":{"title":"Transmitted Bits / Epoch (MB)","values":[0,250,500,750,1000,1250,1500,1750],"format":"d"}},"color":{"field":"s","type":"nominal","scale":{"domain":["QSGD","LAQ","AQUILA","AdaQ","LENA","LAdaQ","MARINA"],"range":["#ff8c00","#17c9c9","#0000ff","#ffc20e","#5fbf1f","#d670d6","#ff0000"]},"legend":{"orient":"top-left","title":null,"columns":3}}}},
 {"data":{"values":[{}]},"mark":{"type":"rule","opacity":0},"encoding":{"x":{"datum":0,"type":"quantitative","axis":{"orient":"top","title":"100% (80 devices)@WikiText-2@IID","labels":false,"ticks":false,"domain":false,"titlePadding":5,"minExtent":0,"maxExtent":0}}}}
]},
{"width":262,"height":196,"title":"(j) Transmitted Bits per epoch","resolve":{"axis":{"x":"independent","y":"independent"}},"layer":[
 {"data":{"name":"c_raw"},"mark":{"type":"line","color":"#a8d8ea","strokeWidth":1,"opacity":0.8,"clip":true},"encoding":{"x":{"field":"x","type":"quantitative","axis":null},"y":{"field":"y","type":"quantitative","axis":null}}},
 {"data":{"name":"j_c"},"mark":{"type":"line","color":"#17c9c9","strokeWidth":1,"opacity":0.35,"clip":true},"encoding":{"x":{"field":"x","type":"quantitative","axis":null},"y":{"field":"y","type":"quantitative","axis":null}}},
 {"data":{"name":"j_lg"},"mark":{"type":"line","color":"#9be03c","strokeWidth":1,"opacity":0.6,"clip":true},"encoding":{"x":{"field":"x","type":"quantitative","axis":null},"y":{"field":"y","type":"quantitative","axis":null}}},
 {"data":{"name":"j_ada"},"mark":{"type":"line","color":"#f08080","strokeWidth":1,"opacity":0.4,"clip":true},"encoding":{"x":{"field":"x","type":"quantitative","axis":null},"y":{"field":"y","type":"quantitative","axis":null}}},
 {"data":{"name":"j_p"},"mark":{"type":"line","color":"#ff9999","strokeWidth":1,"opacity":0.5,"clip":true},"encoding":{"x":{"field":"x","type":"quantitative","axis":null},"y":{"field":"y","type":"quantitative","axis":null}}},
 {"data":{"name":"j_o"},"mark":{"type":"line","color":"#ffb060","strokeWidth":1,"opacity":0.6,"clip":true},"encoding":{"x":{"field":"x","type":"quantitative","axis":null},"y":{"field":"y","type":"quantitative","axis":null}}},
 {"data":{"name":"c"},"mark":{"type":"line","strokeWidth":1.3,"clip":true},"encoding":{"x":{"field":"x","type":"quantitative","scale":{"domain":[-10,210],"nice":false,"zero":false},"axis":{"title":"Global Epoch","values":[0,25,50,75,100,125,150,175,200],"format":"d"}},"y":{"field":"y","type":"quantitative","scale":{"domain":[600,1800],"nice":false,"zero":false},"axis":{"title":"Transmitted Bits / Epoch (MB)","values":[600,800,1000,1200,1400,1600,1800],"format":"d"}},"color":{"field":"s","type":"nominal","scale":{"domain":["QSGD","LAQ","AQUILA","AdaQ","LENA","LAdaQ","MARINA"],"range":["#ff8c00","#17c9c9","#0000ff","#ffc20e","#5fbf1f","#d670d6","#ff0000"]},"legend":{"orient":"top-left","title":null,"columns":3}}}},
 {"data":{"name":"j_g"},"mark":{"type":"line","color":"#5fbf1f","strokeWidth":1.3,"clip":true},"encoding":{"x":{"field":"x","type":"quantitative","axis":null},"y":{"field":"y","type":"quantitative","axis":null}}},
 {"data":{"values":[{}]},"mark":{"type":"rule","opacity":0},"encoding":{"x":{"datum":0,"type":"quantitative","axis":{"orient":"top","title":"100% (100 devices)@CIFAR-10@IID","labels":false,"ticks":false,"domain":false,"titlePadding":5,"minExtent":0,"maxExtent":0}}}}
]},
{"width":262,"height":196,"title":"(k) Transmitted Bits per epoch","resolve":{"axis":{"x":"independent","y":"independent"}},"layer":[
 {"data":{"name":"f_raw"},"mark":{"type":"line","color":"#a8d8ea","strokeWidth":1,"opacity":0.7,"clip":true},"encoding":{"x":{"field":"x","type":"quantitative","axis":null},"y":{"field":"y","type":"quantitative","axis":null}}},
 {"data":{"name":"k_c"},"mark":{"type":"line","color":"#17c9c9","strokeWidth":1,"opacity":0.35,"clip":true},"encoding":{"x":{"field":"x","type":"quantitative","axis":null},"y":{"field":"y","type":"quantitative","axis":null}}},
 {"data":{"name":"k_lg"},"mark":{"type":"line","color":"#9be03c","strokeWidth":1,"opacity":0.6,"clip":true},"encoding":{"x":{"field":"x","type":"quantitative","axis":null},"y":{"field":"y","type":"quantitative","axis":null}}},
 {"data":{"name":"k_lp"},"mark":{"type":"line","color":"#d670d6","strokeWidth":1,"opacity":0.4,"clip":true},"encoding":{"x":{"field":"x","type":"quantitative","axis":null},"y":{"field":"y","type":"quantitative","axis":null}}},
 {"data":{"name":"k_p"},"mark":{"type":"line","color":"#ff9999","strokeWidth":1,"opacity":0.5,"clip":true},"encoding":{"x":{"field":"x","type":"quantitative","axis":null},"y":{"field":"y","type":"quantitative","axis":null}}},
 {"data":{"name":"k_o"},"mark":{"type":"line","color":"#ffb060","strokeWidth":1,"opacity":0.6,"clip":true},"encoding":{"x":{"field":"x","type":"quantitative","axis":null},"y":{"field":"y","type":"quantitative","axis":null}}},
 {"data":{"name":"f"},"mark":{"type":"line","strokeWidth":1.3,"clip":true},"encoding":{"x":{"field":"x","type":"quantitative","scale":{"domain":[-50,1050],"nice":false,"zero":false},"axis":{"title":"Global Epoch","values":[0,200,400,600,800,1000],"format":"d"}},"y":{"field":"y","type":"quantitative","scale":{"domain":[100,350],"nice":false,"zero":false},"axis":{"title":"Transmitted Bits / Epoch (MB)","values":[100,150,200,250,300,350],"format":"d"}},"color":{"field":"s","type":"nominal","scale":{"domain":["QSGD","LAQ","AQUILA","AdaQ","LENA","LAdaQ","MARINA"],"range":["#ff8c00","#17c9c9","#0000ff","#ffc20e","#5fbf1f","#d670d6","#ff0000"]},"legend":{"orient":"top-left","title":null,"columns":3}}}},
 {"data":{"name":"k_g"},"mark":{"type":"line","color":"#5fbf1f","strokeWidth":1.3,"clip":true},"encoding":{"x":{"field":"x","type":"quantitative","axis":null},"y":{"field":"y","type":"quantitative","axis":null}}},
 {"data":{"values":[{}]},"mark":{"type":"rule","opacity":0},"encoding":{"x":{"datum":0,"type":"quantitative","axis":{"orient":"top","title":"100% (100 devices)@CIFAR-100@IID","labels":false,"ticks":false,"domain":false,"titlePadding":5,"minExtent":0,"maxExtent":0}}}}
]},
{"width":262,"height":196,"title":"(l) Transmitted Bits per epoch","resolve":{"axis":{"x":"independent","y":"independent"}},"layer":[
 {"data":{"name":"i_band"},"mark":{"type":"area","color":"#add8e6","opacity":0.45,"clip":true},"encoding":{"x":{"field":"x","type":"quantitative","axis":null},"y":{"field":"lo","type":"quantitative","axis":null},"y2":{"field":"hi"}}},
 {"data":{"name":"l_c"},"mark":{"type":"line","color":"#17c9c9","strokeWidth":1,"opacity":0.35,"clip":true},"encoding":{"x":{"field":"x","type":"quantitative","axis":null},"y":{"field":"y","type":"quantitative","axis":null}}},
 {"data":{"name":"l_p"},"mark":{"type":"line","color":"#ff9999","strokeWidth":1,"opacity":0.5,"clip":true},"encoding":{"x":{"field":"x","type":"quantitative","axis":null},"y":{"field":"y","type":"quantitative","axis":null}}},
 {"data":{"name":"l_y"},"mark":{"type":"line","color":"#ffc20e","strokeWidth":1,"opacity":0.5,"clip":true},"encoding":{"x":{"field":"x","type":"quantitative","axis":null},"y":{"field":"y","type":"quantitative","axis":null}}},
 {"data":{"name":"i_blue"},"mark":{"type":"area","color":"#0000ff","opacity":0.9,"clip":true},"encoding":{"x":{"field":"x","type":"quantitative","axis":null},"y":{"field":"lo","type":"quantitative","axis":null},"y2":{"field":"hi"}}},
 {"data":{"name":"i"},"mark":{"type":"line","strokeWidth":1.3,"clip":true},"encoding":{"x":{"field":"x","type":"quantitative","scale":{"domain":[-25,525],"nice":false,"zero":false},"axis":{"title":"Global Epoch","values":[0,100,200,300,400,500],"format":"d"}},"y":{"field":"y","type":"quantitative","scale":{"domain":[-310,6165],"nice":false,"zero":false},"axis":{"title":"Transmitted Bits / Epoch (MB)","values":[0,1000,2000,3000,4000,5000,6000],"format":"d"}},"color":{"field":"s","type":"nominal","scale":{"domain":["QSGD","LAQ","AQUILA","AdaQ","LENA","LAdaQ","MARINA"],"range":["#ff8c00","#17c9c9","#0000ff","#ffc20e","#5fbf1f","#d670d6","#ff0000"]},"legend":{"orient":"top-left","title":null,"columns":3}}}},
 {"data":{"values":[{}]},"mark":{"type":"rule","opacity":0},"encoding":{"x":{"datum":0,"type":"quantitative","axis":{"orient":"top","title":"100% (80 devices)@WikiText-2@IID","labels":false,"ticks":false,"domain":false,"titlePadding":5,"minExtent":0,"maxExtent":0}}}}
]}
]
}
